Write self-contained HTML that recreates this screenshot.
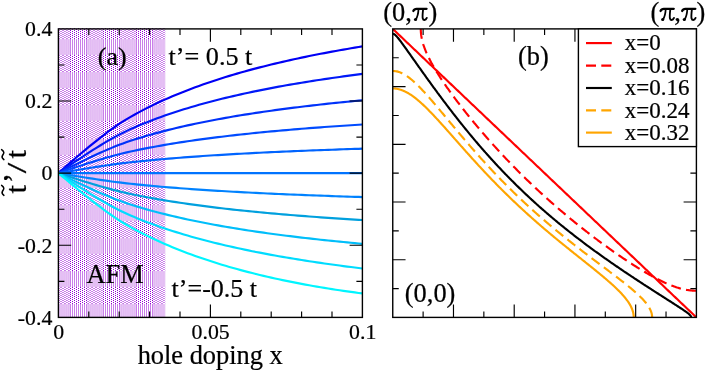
<!DOCTYPE html>
<html><head><meta charset="utf-8"><title>fig</title>
<style>html,body{margin:0;padding:0;background:#fff}body{width:706px;height:371px;overflow:hidden;font-family:"Liberation Serif",serif}</style></head>
<body>
<svg width="706" height="371" viewBox="0 0 706 371" style="display:block;will-change:transform;font-family:'Liberation Serif',serif" stroke-linecap="butt"><style>text{stroke:#000;stroke-width:0.22px}</style>
<rect width="706" height="371" fill="#fff"/>
<defs><clipPath id="ca"><rect x="58.40" y="28.90" width="304.00" height="288.50"/></clipPath>
<clipPath id="cb"><rect x="392.75" y="28.90" width="303.65" height="288.50"/></clipPath></defs>
<!--AFM-->
<mask id="mr0" style="mask-type:alpha" maskUnits="userSpaceOnUse" x="58" y="28" width="108" height="290">
<rect x="58" y="28" width="108" height="1"/><rect x="58" y="30" width="108" height="1"/><rect x="58" y="32" width="108" height="1"/><rect x="58" y="34" width="108" height="1"/><rect x="58" y="36" width="108" height="1"/><rect x="58" y="38" width="108" height="1"/><rect x="58" y="39" width="108" height="1" fill-opacity="0.5"/><rect x="58" y="40" width="108" height="1" fill-opacity="0.5"/><rect x="58" y="41" width="108" height="1" fill-opacity="0.5"/><rect x="58" y="42" width="108" height="1" fill-opacity="0.5"/><rect x="58" y="43" width="108" height="1" fill-opacity="0.5"/><rect x="58" y="44" width="108" height="1" fill-opacity="0.5"/><rect x="58" y="45" width="108" height="1" fill-opacity="0.5"/><rect x="58" y="46" width="108" height="1" fill-opacity="0.5"/><rect x="58" y="47" width="108" height="1" fill-opacity="0.5"/><rect x="58" y="48" width="108" height="1" fill-opacity="0.5"/><rect x="58" y="49" width="108" height="1" fill-opacity="0.5"/><rect x="58" y="50" width="108" height="1" fill-opacity="0.5"/><rect x="58" y="51" width="108" height="1" fill-opacity="0.5"/><rect x="58" y="52" width="108" height="1" fill-opacity="0.5"/><rect x="58" y="53" width="108" height="1" fill-opacity="0.5"/><rect x="58" y="54" width="108" height="1" fill-opacity="0.5"/><rect x="58" y="55" width="108" height="1"/><rect x="58" y="57" width="108" height="1"/><rect x="58" y="59" width="108" height="1"/><rect x="58" y="61" width="108" height="1"/><rect x="58" y="63" width="108" height="1"/><rect x="58" y="65" width="108" height="1"/><rect x="58" y="67" width="108" height="1"/><rect x="58" y="69" width="108" height="1"/><rect x="58" y="71" width="108" height="1"/><rect x="58" y="72" width="108" height="1" fill-opacity="0.5"/><rect x="58" y="73" width="108" height="1" fill-opacity="0.5"/><rect x="58" y="74" width="108" height="1" fill-opacity="0.5"/><rect x="58" y="75" width="108" height="1" fill-opacity="0.5"/><rect x="58" y="76" width="108" height="1" fill-opacity="0.5"/><rect x="58" y="77" width="108" height="1" fill-opacity="0.5"/><rect x="58" y="78" width="108" height="1" fill-opacity="0.5"/><rect x="58" y="79" width="108" height="1" fill-opacity="0.5"/><rect x="58" y="80" width="108" height="1" fill-opacity="0.5"/><rect x="58" y="81" width="108" height="1" fill-opacity="0.5"/><rect x="58" y="82" width="108" height="1" fill-opacity="0.5"/><rect x="58" y="83" width="108" height="1" fill-opacity="0.5"/><rect x="58" y="84" width="108" height="1" fill-opacity="0.5"/><rect x="58" y="85" width="108" height="1" fill-opacity="0.5"/><rect x="58" y="86" width="108" height="1" fill-opacity="0.5"/><rect x="58" y="87" width="108" height="1" fill-opacity="0.5"/><rect x="58" y="88" width="108" height="1"/><rect x="58" y="90" width="108" height="1"/><rect x="58" y="92" width="108" height="1"/><rect x="58" y="94" width="108" height="1"/><rect x="58" y="96" width="108" height="1"/><rect x="58" y="98" width="108" height="1"/><rect x="58" y="100" width="108" height="1"/><rect x="58" y="102" width="108" height="1"/><rect x="58" y="104" width="108" height="1"/><rect x="58" y="105" width="108" height="1" fill-opacity="0.5"/><rect x="58" y="106" width="108" height="1" fill-opacity="0.5"/><rect x="58" y="107" width="108" height="1" fill-opacity="0.5"/><rect x="58" y="108" width="108" height="1" fill-opacity="0.5"/><rect x="58" y="109" width="108" height="1" fill-opacity="0.5"/><rect x="58" y="110" width="108" height="1" fill-opacity="0.5"/><rect x="58" y="111" width="108" height="1" fill-opacity="0.5"/><rect x="58" y="112" width="108" height="1" fill-opacity="0.5"/><rect x="58" y="113" width="108" height="1" fill-opacity="0.5"/><rect x="58" y="114" width="108" height="1" fill-opacity="0.5"/><rect x="58" y="115" width="108" height="1" fill-opacity="0.5"/><rect x="58" y="116" width="108" height="1" fill-opacity="0.5"/><rect x="58" y="117" width="108" height="1" fill-opacity="0.5"/><rect x="58" y="118" width="108" height="1" fill-opacity="0.5"/><rect x="58" y="119" width="108" height="1" fill-opacity="0.5"/><rect x="58" y="120" width="108" height="1" fill-opacity="0.5"/><rect x="58" y="121" width="108" height="1"/><rect x="58" y="123" width="108" height="1"/><rect x="58" y="125" width="108" height="1"/><rect x="58" y="127" width="108" height="1"/><rect x="58" y="129" width="108" height="1"/><rect x="58" y="131" width="108" height="1"/><rect x="58" y="133" width="108" height="1"/><rect x="58" y="135" width="108" height="1"/><rect x="58" y="137" width="108" height="1"/><rect x="58" y="139" width="108" height="1" fill-opacity="0.5"/><rect x="58" y="140" width="108" height="1" fill-opacity="0.5"/><rect x="58" y="141" width="108" height="1" fill-opacity="0.5"/><rect x="58" y="142" width="108" height="1" fill-opacity="0.5"/><rect x="58" y="143" width="108" height="1" fill-opacity="0.5"/><rect x="58" y="144" width="108" height="1" fill-opacity="0.5"/><rect x="58" y="145" width="108" height="1" fill-opacity="0.5"/><rect x="58" y="146" width="108" height="1" fill-opacity="0.5"/><rect x="58" y="147" width="108" height="1" fill-opacity="0.5"/><rect x="58" y="148" width="108" height="1" fill-opacity="0.5"/><rect x="58" y="149" width="108" height="1" fill-opacity="0.5"/><rect x="58" y="150" width="108" height="1" fill-opacity="0.5"/><rect x="58" y="151" width="108" height="1" fill-opacity="0.5"/><rect x="58" y="152" width="108" height="1" fill-opacity="0.5"/><rect x="58" y="153" width="108" height="1" fill-opacity="0.5"/><rect x="58" y="154" width="108" height="1" fill-opacity="0.5"/><rect x="58" y="156" width="108" height="1"/><rect x="58" y="158" width="108" height="1"/><rect x="58" y="160" width="108" height="1"/><rect x="58" y="162" width="108" height="1"/><rect x="58" y="164" width="108" height="1"/><rect x="58" y="166" width="108" height="1"/><rect x="58" y="168" width="108" height="1"/><rect x="58" y="170" width="108" height="1"/><rect x="58" y="172" width="108" height="1" fill-opacity="0.5"/><rect x="58" y="173" width="108" height="1" fill-opacity="0.5"/><rect x="58" y="174" width="108" height="1" fill-opacity="0.5"/><rect x="58" y="175" width="108" height="1" fill-opacity="0.5"/><rect x="58" y="176" width="108" height="1" fill-opacity="0.5"/><rect x="58" y="177" width="108" height="1" fill-opacity="0.5"/><rect x="58" y="178" width="108" height="1" fill-opacity="0.5"/><rect x="58" y="179" width="108" height="1" fill-opacity="0.5"/><rect x="58" y="180" width="108" height="1" fill-opacity="0.5"/><rect x="58" y="181" width="108" height="1" fill-opacity="0.5"/><rect x="58" y="182" width="108" height="1" fill-opacity="0.5"/><rect x="58" y="183" width="108" height="1" fill-opacity="0.5"/><rect x="58" y="184" width="108" height="1" fill-opacity="0.5"/><rect x="58" y="185" width="108" height="1" fill-opacity="0.5"/><rect x="58" y="186" width="108" height="1" fill-opacity="0.5"/><rect x="58" y="187" width="108" height="1" fill-opacity="0.5"/><rect x="58" y="189" width="108" height="1"/><rect x="58" y="191" width="108" height="1"/><rect x="58" y="193" width="108" height="1"/><rect x="58" y="195" width="108" height="1"/><rect x="58" y="197" width="108" height="1"/><rect x="58" y="199" width="108" height="1"/><rect x="58" y="201" width="108" height="1"/><rect x="58" y="203" width="108" height="1"/><rect x="58" y="205" width="108" height="1" fill-opacity="0.5"/><rect x="58" y="206" width="108" height="1" fill-opacity="0.5"/><rect x="58" y="207" width="108" height="1" fill-opacity="0.5"/><rect x="58" y="208" width="108" height="1" fill-opacity="0.5"/><rect x="58" y="209" width="108" height="1" fill-opacity="0.5"/><rect x="58" y="210" width="108" height="1" fill-opacity="0.5"/><rect x="58" y="211" width="108" height="1" fill-opacity="0.5"/><rect x="58" y="212" width="108" height="1" fill-opacity="0.5"/><rect x="58" y="213" width="108" height="1" fill-opacity="0.5"/><rect x="58" y="214" width="108" height="1" fill-opacity="0.5"/><rect x="58" y="215" width="108" height="1" fill-opacity="0.5"/><rect x="58" y="216" width="108" height="1" fill-opacity="0.5"/><rect x="58" y="217" width="108" height="1" fill-opacity="0.5"/><rect x="58" y="218" width="108" height="1" fill-opacity="0.5"/><rect x="58" y="219" width="108" height="1" fill-opacity="0.5"/><rect x="58" y="220" width="108" height="1" fill-opacity="0.5"/><rect x="58" y="222" width="108" height="1"/><rect x="58" y="224" width="108" height="1"/><rect x="58" y="226" width="108" height="1"/><rect x="58" y="228" width="108" height="1"/><rect x="58" y="230" width="108" height="1"/><rect x="58" y="232" width="108" height="1"/><rect x="58" y="234" width="108" height="1"/><rect x="58" y="236" width="108" height="1"/><rect x="58" y="238" width="108" height="1" fill-opacity="0.5"/><rect x="58" y="239" width="108" height="1" fill-opacity="0.5"/><rect x="58" y="240" width="108" height="1" fill-opacity="0.5"/><rect x="58" y="241" width="108" height="1" fill-opacity="0.5"/><rect x="58" y="242" width="108" height="1" fill-opacity="0.5"/><rect x="58" y="243" width="108" height="1" fill-opacity="0.5"/><rect x="58" y="244" width="108" height="1" fill-opacity="0.5"/><rect x="58" y="245" width="108" height="1" fill-opacity="0.5"/><rect x="58" y="246" width="108" height="1" fill-opacity="0.5"/><rect x="58" y="247" width="108" height="1" fill-opacity="0.5"/><rect x="58" y="248" width="108" height="1" fill-opacity="0.5"/><rect x="58" y="249" width="108" height="1" fill-opacity="0.5"/><rect x="58" y="250" width="108" height="1" fill-opacity="0.5"/><rect x="58" y="251" width="108" height="1" fill-opacity="0.5"/><rect x="58" y="252" width="108" height="1" fill-opacity="0.5"/><rect x="58" y="253" width="108" height="1" fill-opacity="0.5"/><rect x="58" y="255" width="108" height="1"/><rect x="58" y="257" width="108" height="1"/><rect x="58" y="259" width="108" height="1"/><rect x="58" y="261" width="108" height="1"/><rect x="58" y="263" width="108" height="1"/><rect x="58" y="265" width="108" height="1"/><rect x="58" y="267" width="108" height="1"/><rect x="58" y="269" width="108" height="1"/><rect x="58" y="271" width="108" height="1" fill-opacity="0.5"/><rect x="58" y="272" width="108" height="1" fill-opacity="0.5"/><rect x="58" y="273" width="108" height="1" fill-opacity="0.5"/><rect x="58" y="274" width="108" height="1" fill-opacity="0.5"/><rect x="58" y="275" width="108" height="1" fill-opacity="0.5"/><rect x="58" y="276" width="108" height="1" fill-opacity="0.5"/><rect x="58" y="277" width="108" height="1" fill-opacity="0.5"/><rect x="58" y="278" width="108" height="1" fill-opacity="0.5"/><rect x="58" y="279" width="108" height="1" fill-opacity="0.5"/><rect x="58" y="280" width="108" height="1" fill-opacity="0.5"/><rect x="58" y="281" width="108" height="1" fill-opacity="0.5"/><rect x="58" y="282" width="108" height="1" fill-opacity="0.5"/><rect x="58" y="283" width="108" height="1" fill-opacity="0.5"/><rect x="58" y="284" width="108" height="1" fill-opacity="0.5"/><rect x="58" y="285" width="108" height="1" fill-opacity="0.5"/><rect x="58" y="286" width="108" height="1" fill-opacity="0.5"/><rect x="58" y="288" width="108" height="1"/><rect x="58" y="290" width="108" height="1"/><rect x="58" y="292" width="108" height="1"/><rect x="58" y="294" width="108" height="1"/><rect x="58" y="296" width="108" height="1"/><rect x="58" y="298" width="108" height="1"/><rect x="58" y="300" width="108" height="1"/><rect x="58" y="302" width="108" height="1"/><rect x="58" y="304" width="108" height="1" fill-opacity="0.5"/><rect x="58" y="305" width="108" height="1" fill-opacity="0.5"/><rect x="58" y="306" width="108" height="1" fill-opacity="0.5"/><rect x="58" y="307" width="108" height="1" fill-opacity="0.5"/><rect x="58" y="308" width="108" height="1" fill-opacity="0.5"/><rect x="58" y="309" width="108" height="1" fill-opacity="0.5"/><rect x="58" y="310" width="108" height="1" fill-opacity="0.5"/><rect x="58" y="311" width="108" height="1" fill-opacity="0.5"/><rect x="58" y="312" width="108" height="1" fill-opacity="0.5"/><rect x="58" y="313" width="108" height="1" fill-opacity="0.5"/><rect x="58" y="314" width="108" height="1" fill-opacity="0.5"/><rect x="58" y="315" width="108" height="1" fill-opacity="0.5"/><rect x="58" y="316" width="108" height="1" fill-opacity="0.5"/><rect x="58" y="317" width="108" height="1" fill-opacity="0.5"/>
</mask>
<g mask="url(#mr0)" fill="#9400d3" shape-rendering="crispEdges"><rect x="58" y="28" width="1" height="290" fill-opacity="0.467"/><rect x="59" y="28" width="1" height="290" fill-opacity="0.524"/><rect x="62" y="28" width="1" height="290" fill-opacity="0.502"/><rect x="63" y="28" width="1" height="290" fill-opacity="0.489"/><rect x="66" y="28" width="1" height="290" fill-opacity="0.537"/><rect x="67" y="28" width="1" height="290" fill-opacity="0.454"/><rect x="70" y="28" width="1" height="290"/><rect x="74" y="28" width="1" height="290"/><rect x="78" y="28" width="1" height="290"/><rect x="82" y="28" width="1" height="290"/><rect x="86" y="28" width="1" height="290"/><rect x="89" y="28" width="1" height="290" fill-opacity="0.449"/><rect x="90" y="28" width="1" height="290" fill-opacity="0.542"/><rect x="93" y="28" width="1" height="290" fill-opacity="0.484"/><rect x="94" y="28" width="1" height="290" fill-opacity="0.507"/><rect x="97" y="28" width="1" height="290" fill-opacity="0.519"/><rect x="98" y="28" width="1" height="290" fill-opacity="0.472"/><rect x="101" y="28" width="1" height="290" fill-opacity="0.554"/><rect x="102" y="28" width="1" height="290" fill-opacity="0.437"/><rect x="105" y="28" width="1" height="290"/><rect x="109" y="28" width="1" height="290"/><rect x="113" y="28" width="1" height="290"/><rect x="117" y="28" width="1" height="290"/><rect x="120" y="28" width="1" height="290" fill-opacity="0.431"/><rect x="121" y="28" width="1" height="290" fill-opacity="0.56"/><rect x="124" y="28" width="1" height="290" fill-opacity="0.466"/><rect x="125" y="28" width="1" height="290" fill-opacity="0.525"/><rect x="128" y="28" width="1" height="290" fill-opacity="0.501"/><rect x="129" y="28" width="1" height="290" fill-opacity="0.49"/><rect x="132" y="28" width="1" height="290" fill-opacity="0.536"/><rect x="133" y="28" width="1" height="290" fill-opacity="0.455"/><rect x="136" y="28" width="1" height="290"/><rect x="140" y="28" width="1" height="290"/><rect x="144" y="28" width="1" height="290"/><rect x="148" y="28" width="1" height="290"/><rect x="152" y="28" width="1" height="290"/><rect x="155" y="28" width="1" height="290" fill-opacity="0.448"/><rect x="156" y="28" width="1" height="290" fill-opacity="0.543"/><rect x="159" y="28" width="1" height="290" fill-opacity="0.483"/><rect x="160" y="28" width="1" height="290" fill-opacity="0.508"/><rect x="163" y="28" width="1" height="290" fill-opacity="0.518"/><rect x="164" y="28" width="1" height="290" fill-opacity="0.473"/></g>
<mask id="mr1" style="mask-type:alpha" maskUnits="userSpaceOnUse" x="58" y="28" width="108" height="290">
<rect x="58" y="29" width="108" height="1"/><rect x="58" y="31" width="108" height="1"/><rect x="58" y="33" width="108" height="1"/><rect x="58" y="35" width="108" height="1"/><rect x="58" y="37" width="108" height="1"/><rect x="58" y="39" width="108" height="1" fill-opacity="0.5"/><rect x="58" y="40" width="108" height="1" fill-opacity="0.5"/><rect x="58" y="41" width="108" height="1" fill-opacity="0.5"/><rect x="58" y="42" width="108" height="1" fill-opacity="0.5"/><rect x="58" y="43" width="108" height="1" fill-opacity="0.5"/><rect x="58" y="44" width="108" height="1" fill-opacity="0.5"/><rect x="58" y="45" width="108" height="1" fill-opacity="0.5"/><rect x="58" y="46" width="108" height="1" fill-opacity="0.5"/><rect x="58" y="47" width="108" height="1" fill-opacity="0.5"/><rect x="58" y="48" width="108" height="1" fill-opacity="0.5"/><rect x="58" y="49" width="108" height="1" fill-opacity="0.5"/><rect x="58" y="50" width="108" height="1" fill-opacity="0.5"/><rect x="58" y="51" width="108" height="1" fill-opacity="0.5"/><rect x="58" y="52" width="108" height="1" fill-opacity="0.5"/><rect x="58" y="53" width="108" height="1" fill-opacity="0.5"/><rect x="58" y="54" width="108" height="1" fill-opacity="0.5"/><rect x="58" y="56" width="108" height="1"/><rect x="58" y="58" width="108" height="1"/><rect x="58" y="60" width="108" height="1"/><rect x="58" y="62" width="108" height="1"/><rect x="58" y="64" width="108" height="1"/><rect x="58" y="66" width="108" height="1"/><rect x="58" y="68" width="108" height="1"/><rect x="58" y="70" width="108" height="1"/><rect x="58" y="72" width="108" height="1" fill-opacity="0.5"/><rect x="58" y="73" width="108" height="1" fill-opacity="0.5"/><rect x="58" y="74" width="108" height="1" fill-opacity="0.5"/><rect x="58" y="75" width="108" height="1" fill-opacity="0.5"/><rect x="58" y="76" width="108" height="1" fill-opacity="0.5"/><rect x="58" y="77" width="108" height="1" fill-opacity="0.5"/><rect x="58" y="78" width="108" height="1" fill-opacity="0.5"/><rect x="58" y="79" width="108" height="1" fill-opacity="0.5"/><rect x="58" y="80" width="108" height="1" fill-opacity="0.5"/><rect x="58" y="81" width="108" height="1" fill-opacity="0.5"/><rect x="58" y="82" width="108" height="1" fill-opacity="0.5"/><rect x="58" y="83" width="108" height="1" fill-opacity="0.5"/><rect x="58" y="84" width="108" height="1" fill-opacity="0.5"/><rect x="58" y="85" width="108" height="1" fill-opacity="0.5"/><rect x="58" y="86" width="108" height="1" fill-opacity="0.5"/><rect x="58" y="87" width="108" height="1" fill-opacity="0.5"/><rect x="58" y="89" width="108" height="1"/><rect x="58" y="91" width="108" height="1"/><rect x="58" y="93" width="108" height="1"/><rect x="58" y="95" width="108" height="1"/><rect x="58" y="97" width="108" height="1"/><rect x="58" y="99" width="108" height="1"/><rect x="58" y="101" width="108" height="1"/><rect x="58" y="103" width="108" height="1"/><rect x="58" y="105" width="108" height="1" fill-opacity="0.5"/><rect x="58" y="106" width="108" height="1" fill-opacity="0.5"/><rect x="58" y="107" width="108" height="1" fill-opacity="0.5"/><rect x="58" y="108" width="108" height="1" fill-opacity="0.5"/><rect x="58" y="109" width="108" height="1" fill-opacity="0.5"/><rect x="58" y="110" width="108" height="1" fill-opacity="0.5"/><rect x="58" y="111" width="108" height="1" fill-opacity="0.5"/><rect x="58" y="112" width="108" height="1" fill-opacity="0.5"/><rect x="58" y="113" width="108" height="1" fill-opacity="0.5"/><rect x="58" y="114" width="108" height="1" fill-opacity="0.5"/><rect x="58" y="115" width="108" height="1" fill-opacity="0.5"/><rect x="58" y="116" width="108" height="1" fill-opacity="0.5"/><rect x="58" y="117" width="108" height="1" fill-opacity="0.5"/><rect x="58" y="118" width="108" height="1" fill-opacity="0.5"/><rect x="58" y="119" width="108" height="1" fill-opacity="0.5"/><rect x="58" y="120" width="108" height="1" fill-opacity="0.5"/><rect x="58" y="122" width="108" height="1"/><rect x="58" y="124" width="108" height="1"/><rect x="58" y="126" width="108" height="1"/><rect x="58" y="128" width="108" height="1"/><rect x="58" y="130" width="108" height="1"/><rect x="58" y="132" width="108" height="1"/><rect x="58" y="134" width="108" height="1"/><rect x="58" y="136" width="108" height="1"/><rect x="58" y="138" width="108" height="1"/><rect x="58" y="139" width="108" height="1" fill-opacity="0.5"/><rect x="58" y="140" width="108" height="1" fill-opacity="0.5"/><rect x="58" y="141" width="108" height="1" fill-opacity="0.5"/><rect x="58" y="142" width="108" height="1" fill-opacity="0.5"/><rect x="58" y="143" width="108" height="1" fill-opacity="0.5"/><rect x="58" y="144" width="108" height="1" fill-opacity="0.5"/><rect x="58" y="145" width="108" height="1" fill-opacity="0.5"/><rect x="58" y="146" width="108" height="1" fill-opacity="0.5"/><rect x="58" y="147" width="108" height="1" fill-opacity="0.5"/><rect x="58" y="148" width="108" height="1" fill-opacity="0.5"/><rect x="58" y="149" width="108" height="1" fill-opacity="0.5"/><rect x="58" y="150" width="108" height="1" fill-opacity="0.5"/><rect x="58" y="151" width="108" height="1" fill-opacity="0.5"/><rect x="58" y="152" width="108" height="1" fill-opacity="0.5"/><rect x="58" y="153" width="108" height="1" fill-opacity="0.5"/><rect x="58" y="154" width="108" height="1" fill-opacity="0.5"/><rect x="58" y="155" width="108" height="1"/><rect x="58" y="157" width="108" height="1"/><rect x="58" y="159" width="108" height="1"/><rect x="58" y="161" width="108" height="1"/><rect x="58" y="163" width="108" height="1"/><rect x="58" y="165" width="108" height="1"/><rect x="58" y="167" width="108" height="1"/><rect x="58" y="169" width="108" height="1"/><rect x="58" y="171" width="108" height="1"/><rect x="58" y="172" width="108" height="1" fill-opacity="0.5"/><rect x="58" y="173" width="108" height="1" fill-opacity="0.5"/><rect x="58" y="174" width="108" height="1" fill-opacity="0.5"/><rect x="58" y="175" width="108" height="1" fill-opacity="0.5"/><rect x="58" y="176" width="108" height="1" fill-opacity="0.5"/><rect x="58" y="177" width="108" height="1" fill-opacity="0.5"/><rect x="58" y="178" width="108" height="1" fill-opacity="0.5"/><rect x="58" y="179" width="108" height="1" fill-opacity="0.5"/><rect x="58" y="180" width="108" height="1" fill-opacity="0.5"/><rect x="58" y="181" width="108" height="1" fill-opacity="0.5"/><rect x="58" y="182" width="108" height="1" fill-opacity="0.5"/><rect x="58" y="183" width="108" height="1" fill-opacity="0.5"/><rect x="58" y="184" width="108" height="1" fill-opacity="0.5"/><rect x="58" y="185" width="108" height="1" fill-opacity="0.5"/><rect x="58" y="186" width="108" height="1" fill-opacity="0.5"/><rect x="58" y="187" width="108" height="1" fill-opacity="0.5"/><rect x="58" y="188" width="108" height="1"/><rect x="58" y="190" width="108" height="1"/><rect x="58" y="192" width="108" height="1"/><rect x="58" y="194" width="108" height="1"/><rect x="58" y="196" width="108" height="1"/><rect x="58" y="198" width="108" height="1"/><rect x="58" y="200" width="108" height="1"/><rect x="58" y="202" width="108" height="1"/><rect x="58" y="204" width="108" height="1"/><rect x="58" y="205" width="108" height="1" fill-opacity="0.5"/><rect x="58" y="206" width="108" height="1" fill-opacity="0.5"/><rect x="58" y="207" width="108" height="1" fill-opacity="0.5"/><rect x="58" y="208" width="108" height="1" fill-opacity="0.5"/><rect x="58" y="209" width="108" height="1" fill-opacity="0.5"/><rect x="58" y="210" width="108" height="1" fill-opacity="0.5"/><rect x="58" y="211" width="108" height="1" fill-opacity="0.5"/><rect x="58" y="212" width="108" height="1" fill-opacity="0.5"/><rect x="58" y="213" width="108" height="1" fill-opacity="0.5"/><rect x="58" y="214" width="108" height="1" fill-opacity="0.5"/><rect x="58" y="215" width="108" height="1" fill-opacity="0.5"/><rect x="58" y="216" width="108" height="1" fill-opacity="0.5"/><rect x="58" y="217" width="108" height="1" fill-opacity="0.5"/><rect x="58" y="218" width="108" height="1" fill-opacity="0.5"/><rect x="58" y="219" width="108" height="1" fill-opacity="0.5"/><rect x="58" y="220" width="108" height="1" fill-opacity="0.5"/><rect x="58" y="221" width="108" height="1"/><rect x="58" y="223" width="108" height="1"/><rect x="58" y="225" width="108" height="1"/><rect x="58" y="227" width="108" height="1"/><rect x="58" y="229" width="108" height="1"/><rect x="58" y="231" width="108" height="1"/><rect x="58" y="233" width="108" height="1"/><rect x="58" y="235" width="108" height="1"/><rect x="58" y="237" width="108" height="1"/><rect x="58" y="238" width="108" height="1" fill-opacity="0.5"/><rect x="58" y="239" width="108" height="1" fill-opacity="0.5"/><rect x="58" y="240" width="108" height="1" fill-opacity="0.5"/><rect x="58" y="241" width="108" height="1" fill-opacity="0.5"/><rect x="58" y="242" width="108" height="1" fill-opacity="0.5"/><rect x="58" y="243" width="108" height="1" fill-opacity="0.5"/><rect x="58" y="244" width="108" height="1" fill-opacity="0.5"/><rect x="58" y="245" width="108" height="1" fill-opacity="0.5"/><rect x="58" y="246" width="108" height="1" fill-opacity="0.5"/><rect x="58" y="247" width="108" height="1" fill-opacity="0.5"/><rect x="58" y="248" width="108" height="1" fill-opacity="0.5"/><rect x="58" y="249" width="108" height="1" fill-opacity="0.5"/><rect x="58" y="250" width="108" height="1" fill-opacity="0.5"/><rect x="58" y="251" width="108" height="1" fill-opacity="0.5"/><rect x="58" y="252" width="108" height="1" fill-opacity="0.5"/><rect x="58" y="253" width="108" height="1" fill-opacity="0.5"/><rect x="58" y="254" width="108" height="1"/><rect x="58" y="256" width="108" height="1"/><rect x="58" y="258" width="108" height="1"/><rect x="58" y="260" width="108" height="1"/><rect x="58" y="262" width="108" height="1"/><rect x="58" y="264" width="108" height="1"/><rect x="58" y="266" width="108" height="1"/><rect x="58" y="268" width="108" height="1"/><rect x="58" y="270" width="108" height="1"/><rect x="58" y="271" width="108" height="1" fill-opacity="0.5"/><rect x="58" y="272" width="108" height="1" fill-opacity="0.5"/><rect x="58" y="273" width="108" height="1" fill-opacity="0.5"/><rect x="58" y="274" width="108" height="1" fill-opacity="0.5"/><rect x="58" y="275" width="108" height="1" fill-opacity="0.5"/><rect x="58" y="276" width="108" height="1" fill-opacity="0.5"/><rect x="58" y="277" width="108" height="1" fill-opacity="0.5"/><rect x="58" y="278" width="108" height="1" fill-opacity="0.5"/><rect x="58" y="279" width="108" height="1" fill-opacity="0.5"/><rect x="58" y="280" width="108" height="1" fill-opacity="0.5"/><rect x="58" y="281" width="108" height="1" fill-opacity="0.5"/><rect x="58" y="282" width="108" height="1" fill-opacity="0.5"/><rect x="58" y="283" width="108" height="1" fill-opacity="0.5"/><rect x="58" y="284" width="108" height="1" fill-opacity="0.5"/><rect x="58" y="285" width="108" height="1" fill-opacity="0.5"/><rect x="58" y="286" width="108" height="1" fill-opacity="0.5"/><rect x="58" y="287" width="108" height="1"/><rect x="58" y="289" width="108" height="1"/><rect x="58" y="291" width="108" height="1"/><rect x="58" y="293" width="108" height="1"/><rect x="58" y="295" width="108" height="1"/><rect x="58" y="297" width="108" height="1"/><rect x="58" y="299" width="108" height="1"/><rect x="58" y="301" width="108" height="1"/><rect x="58" y="303" width="108" height="1"/><rect x="58" y="304" width="108" height="1" fill-opacity="0.5"/><rect x="58" y="305" width="108" height="1" fill-opacity="0.5"/><rect x="58" y="306" width="108" height="1" fill-opacity="0.5"/><rect x="58" y="307" width="108" height="1" fill-opacity="0.5"/><rect x="58" y="308" width="108" height="1" fill-opacity="0.5"/><rect x="58" y="309" width="108" height="1" fill-opacity="0.5"/><rect x="58" y="310" width="108" height="1" fill-opacity="0.5"/><rect x="58" y="311" width="108" height="1" fill-opacity="0.5"/><rect x="58" y="312" width="108" height="1" fill-opacity="0.5"/><rect x="58" y="313" width="108" height="1" fill-opacity="0.5"/><rect x="58" y="314" width="108" height="1" fill-opacity="0.5"/><rect x="58" y="315" width="108" height="1" fill-opacity="0.5"/><rect x="58" y="316" width="108" height="1" fill-opacity="0.5"/><rect x="58" y="317" width="108" height="1" fill-opacity="0.5"/>
</mask>
<g mask="url(#mr1)" fill="#9400d3" shape-rendering="crispEdges"><rect x="60" y="28" width="1" height="290" fill-opacity="0.484"/><rect x="61" y="28" width="1" height="290" fill-opacity="0.507"/><rect x="64" y="28" width="1" height="290" fill-opacity="0.519"/><rect x="65" y="28" width="1" height="290" fill-opacity="0.472"/><rect x="68" y="28" width="1" height="290" fill-opacity="0.554"/><rect x="69" y="28" width="1" height="290" fill-opacity="0.437"/><rect x="72" y="28" width="1" height="290"/><rect x="76" y="28" width="1" height="290"/><rect x="80" y="28" width="1" height="290"/><rect x="84" y="28" width="1" height="290"/><rect x="87" y="28" width="1" height="290" fill-opacity="0.432"/><rect x="88" y="28" width="1" height="290" fill-opacity="0.56"/><rect x="91" y="28" width="1" height="290" fill-opacity="0.467"/><rect x="92" y="28" width="1" height="290" fill-opacity="0.525"/><rect x="95" y="28" width="1" height="290" fill-opacity="0.501"/><rect x="96" y="28" width="1" height="290" fill-opacity="0.49"/><rect x="99" y="28" width="1" height="290" fill-opacity="0.536"/><rect x="100" y="28" width="1" height="290" fill-opacity="0.455"/><rect x="103" y="28" width="1" height="290"/><rect x="107" y="28" width="1" height="290"/><rect x="111" y="28" width="1" height="290"/><rect x="115" y="28" width="1" height="290"/><rect x="119" y="28" width="1" height="290"/><rect x="122" y="28" width="1" height="290" fill-opacity="0.449"/><rect x="123" y="28" width="1" height="290" fill-opacity="0.543"/><rect x="126" y="28" width="1" height="290" fill-opacity="0.484"/><rect x="127" y="28" width="1" height="290" fill-opacity="0.508"/><rect x="130" y="28" width="1" height="290" fill-opacity="0.518"/><rect x="131" y="28" width="1" height="290" fill-opacity="0.473"/><rect x="134" y="28" width="1" height="290" fill-opacity="0.553"/><rect x="135" y="28" width="1" height="290" fill-opacity="0.438"/><rect x="138" y="28" width="1" height="290"/><rect x="142" y="28" width="1" height="290"/><rect x="146" y="28" width="1" height="290"/><rect x="150" y="28" width="1" height="290"/><rect x="153" y="28" width="1" height="290" fill-opacity="0.431"/><rect x="154" y="28" width="1" height="290" fill-opacity="0.561"/><rect x="157" y="28" width="1" height="290" fill-opacity="0.466"/><rect x="158" y="28" width="1" height="290" fill-opacity="0.526"/><rect x="161" y="28" width="1" height="290" fill-opacity="0.501"/><rect x="162" y="28" width="1" height="290" fill-opacity="0.491"/><rect x="165" y="28" width="1" height="290" fill-opacity="0.161"/></g>
<!--/AFM-->
<g clip-path="url(#ca)" fill="none" stroke-width="2.15" stroke-linejoin="round">
<path d="M58.40 173.15 L62.20 169.77 L66.00 166.42 L69.80 163.09 L73.60 159.79 L77.40 156.52 L81.20 153.29 L85.00 150.10 L88.80 146.95 L92.60 143.85 L96.40 140.80 L100.20 137.80 L104.00 134.86 L107.80 131.98 L111.60 129.19 L115.40 126.50 L119.20 123.92 L123.00 121.47 L126.80 119.12 L130.60 116.88 L134.40 114.72 L138.20 112.64 L142.00 110.62 L145.80 108.66 L149.60 106.76 L153.40 104.90 L157.20 103.09 L161.00 101.33 L164.80 99.61 L168.60 97.93 L172.40 96.30 L176.20 94.71 L180.00 93.15 L183.80 91.63 L187.60 90.15 L191.40 88.70 L195.20 87.29 L199.00 85.90 L202.80 84.55 L206.60 83.23 L210.40 81.93 L214.20 80.67 L218.00 79.43 L221.80 78.22 L225.60 77.03 L229.40 75.87 L233.20 74.74 L237.00 73.62 L240.80 72.53 L244.60 71.46 L248.40 70.41 L252.20 69.38 L256.00 68.37 L259.80 67.39 L263.60 66.42 L267.40 65.46 L271.20 64.53 L275.00 63.61 L278.80 62.71 L282.60 61.83 L286.40 60.96 L290.20 60.11 L294.00 59.27 L297.80 58.45 L301.60 57.64 L305.40 56.85 L309.20 56.07 L313.00 55.30 L316.80 54.55 L320.60 53.80 L324.40 53.07 L328.20 52.36 L332.00 51.65 L335.80 50.96 L339.60 50.27 L343.40 49.60 L347.20 48.94 L351.00 48.29 L354.80 47.64 L358.60 47.01 L362.40 46.39" stroke="rgb(0,0,245)"/>
<path d="M58.40 173.15 L62.20 170.50 L66.00 167.88 L69.80 165.27 L73.60 162.69 L77.40 160.13 L81.20 157.60 L85.00 155.10 L88.80 152.64 L92.60 150.21 L96.40 147.82 L100.20 145.47 L104.00 143.17 L107.80 140.92 L111.60 138.73 L115.40 136.63 L119.20 134.61 L123.00 132.68 L126.80 130.85 L130.60 129.09 L134.40 127.40 L138.20 125.77 L142.00 124.19 L145.80 122.66 L149.60 121.16 L153.40 119.71 L157.20 118.29 L161.00 116.91 L164.80 115.57 L168.60 114.26 L172.40 112.98 L176.20 111.73 L180.00 110.51 L183.80 109.32 L187.60 108.16 L191.40 107.03 L195.20 105.92 L199.00 104.83 L202.80 103.78 L206.60 102.74 L210.40 101.73 L214.20 100.74 L218.00 99.77 L221.80 98.82 L225.60 97.89 L229.40 96.98 L233.20 96.09 L237.00 95.22 L240.80 94.36 L244.60 93.53 L248.40 92.71 L252.20 91.90 L256.00 91.11 L259.80 90.34 L263.60 89.58 L267.40 88.83 L271.20 88.10 L275.00 87.38 L278.80 86.68 L282.60 85.99 L286.40 85.31 L290.20 84.64 L294.00 83.98 L297.80 83.34 L301.60 82.71 L305.40 82.09 L309.20 81.47 L313.00 80.87 L316.80 80.28 L320.60 79.70 L324.40 79.13 L328.20 78.57 L332.00 78.02 L335.80 77.47 L339.60 76.94 L343.40 76.41 L347.20 75.89 L351.00 75.38 L354.80 74.88 L358.60 74.38 L362.40 73.90" stroke="rgb(0,25,248)"/>
<path d="M58.40 173.15 L62.20 171.21 L66.00 169.28 L69.80 167.36 L73.60 165.47 L77.40 163.59 L81.20 161.73 L85.00 159.90 L88.80 158.09 L92.60 156.30 L96.40 154.55 L100.20 152.82 L104.00 151.13 L107.80 149.48 L111.60 147.88 L115.40 146.33 L119.20 144.85 L123.00 143.43 L126.80 142.08 L130.60 140.79 L134.40 139.55 L138.20 138.36 L142.00 137.20 L145.80 136.07 L149.60 134.97 L153.40 133.91 L157.20 132.87 L161.00 131.85 L164.80 130.86 L168.60 129.90 L172.40 128.96 L176.20 128.05 L180.00 127.15 L183.80 126.28 L187.60 125.42 L191.40 124.59 L195.20 123.78 L199.00 122.98 L202.80 122.21 L206.60 121.44 L210.40 120.70 L214.20 119.97 L218.00 119.26 L221.80 118.57 L225.60 117.88 L229.40 117.22 L233.20 116.56 L237.00 115.92 L240.80 115.29 L244.60 114.68 L248.40 114.08 L252.20 113.48 L256.00 112.90 L259.80 112.34 L263.60 111.78 L267.40 111.23 L271.20 110.69 L275.00 110.17 L278.80 109.65 L282.60 109.14 L286.40 108.64 L290.20 108.15 L294.00 107.67 L297.80 107.20 L301.60 106.73 L305.40 106.28 L309.20 105.83 L313.00 105.39 L316.80 104.95 L320.60 104.53 L324.40 104.11 L328.20 103.69 L332.00 103.29 L335.80 102.89 L339.60 102.50 L343.40 102.11 L347.20 101.73 L351.00 101.35 L354.80 100.98 L358.60 100.62 L362.40 100.26" stroke="rgb(0,50,250)"/>
<path d="M58.40 173.15 L62.20 171.85 L66.00 170.56 L69.80 169.29 L73.60 168.02 L77.40 166.76 L81.20 165.52 L85.00 164.30 L88.80 163.09 L92.60 161.90 L96.40 160.73 L100.20 159.57 L104.00 158.44 L107.80 157.34 L111.60 156.27 L115.40 155.24 L119.20 154.25 L123.00 153.30 L126.80 152.40 L130.60 151.54 L134.40 150.71 L138.20 149.91 L142.00 149.14 L145.80 148.39 L149.60 147.66 L153.40 146.94 L157.20 146.25 L161.00 145.57 L164.80 144.91 L168.60 144.27 L172.40 143.64 L176.20 143.03 L180.00 142.43 L183.80 141.85 L187.60 141.28 L191.40 140.72 L195.20 140.18 L199.00 139.65 L202.80 139.13 L206.60 138.62 L210.40 138.12 L214.20 137.64 L218.00 137.16 L221.80 136.70 L225.60 136.24 L229.40 135.80 L233.20 135.36 L237.00 134.93 L240.80 134.51 L244.60 134.10 L248.40 133.70 L252.20 133.30 L256.00 132.92 L259.80 132.54 L263.60 132.16 L267.40 131.80 L271.20 131.44 L275.00 131.09 L278.80 130.74 L282.60 130.40 L286.40 130.07 L290.20 129.74 L294.00 129.42 L297.80 129.11 L301.60 128.80 L305.40 128.49 L309.20 128.19 L313.00 127.90 L316.80 127.61 L320.60 127.32 L324.40 127.04 L328.20 126.77 L332.00 126.49 L335.80 126.23 L339.60 125.97 L343.40 125.71 L347.20 125.45 L351.00 125.20 L354.80 124.96 L358.60 124.71 L362.40 124.47" stroke="rgb(0,75,255)"/>
<path d="M58.40 173.15 L62.20 172.50 L66.00 171.85 L69.80 171.21 L73.60 170.57 L77.40 169.94 L81.20 169.32 L85.00 168.70 L88.80 168.09 L92.60 167.50 L96.40 166.91 L100.20 166.33 L104.00 165.76 L107.80 165.20 L111.60 164.67 L115.40 164.15 L119.20 163.65 L123.00 163.18 L126.80 162.72 L130.60 162.29 L134.40 161.87 L138.20 161.47 L142.00 161.08 L145.80 160.70 L149.60 160.34 L153.40 159.98 L157.20 159.63 L161.00 159.29 L164.80 158.96 L168.60 158.63 L172.40 158.32 L176.20 158.01 L180.00 157.71 L183.80 157.42 L187.60 157.13 L191.40 156.85 L195.20 156.58 L199.00 156.31 L202.80 156.05 L206.60 155.80 L210.40 155.55 L214.20 155.30 L218.00 155.06 L221.80 154.83 L225.60 154.60 L229.40 154.38 L233.20 154.16 L237.00 153.94 L240.80 153.73 L244.60 153.52 L248.40 153.32 L252.20 153.12 L256.00 152.93 L259.80 152.74 L263.60 152.55 L267.40 152.37 L271.20 152.19 L275.00 152.01 L278.80 151.84 L282.60 151.67 L286.40 151.50 L290.20 151.33 L294.00 151.17 L297.80 151.01 L301.60 150.86 L305.40 150.70 L309.20 150.55 L313.00 150.41 L316.80 150.26 L320.60 150.12 L324.40 149.98 L328.20 149.84 L332.00 149.70 L335.80 149.57 L339.60 149.43 L343.40 149.30 L347.20 149.18 L351.00 149.05 L354.80 148.93 L358.60 148.81 L362.40 148.69" stroke="rgb(0,100,255)"/>
<path d="M58.40 173.15 L62.20 173.15 L66.00 173.15 L69.80 173.15 L73.60 173.15 L77.40 173.15 L81.20 173.15 L85.00 173.15 L88.80 173.15 L92.60 173.15 L96.40 173.15 L100.20 173.15 L104.00 173.15 L107.80 173.15 L111.60 173.15 L115.40 173.15 L119.20 173.15 L123.00 173.15 L126.80 173.15 L130.60 173.15 L134.40 173.15 L138.20 173.15 L142.00 173.15 L145.80 173.15 L149.60 173.15 L153.40 173.15 L157.20 173.15 L161.00 173.15 L164.80 173.15 L168.60 173.15 L172.40 173.15 L176.20 173.15 L180.00 173.15 L183.80 173.15 L187.60 173.15 L191.40 173.15 L195.20 173.15 L199.00 173.15 L202.80 173.15 L206.60 173.15 L210.40 173.15 L214.20 173.15 L218.00 173.15 L221.80 173.15 L225.60 173.15 L229.40 173.15 L233.20 173.15 L237.00 173.15 L240.80 173.15 L244.60 173.15 L248.40 173.15 L252.20 173.15 L256.00 173.15 L259.80 173.15 L263.60 173.15 L267.40 173.15 L271.20 173.15 L275.00 173.15 L278.80 173.15 L282.60 173.15 L286.40 173.15 L290.20 173.15 L294.00 173.15 L297.80 173.15 L301.60 173.15 L305.40 173.15 L309.20 173.15 L313.00 173.15 L316.80 173.15 L320.60 173.15 L324.40 173.15 L328.20 173.15 L332.00 173.15 L335.80 173.15 L339.60 173.15 L343.40 173.15 L347.20 173.15 L351.00 173.15 L354.80 173.15 L358.60 173.15 L362.40 173.15" stroke="rgb(0,115,255)"/>
<path d="M58.40 173.15 L62.20 173.79 L66.00 174.42 L69.80 175.05 L73.60 175.67 L77.40 176.29 L81.20 176.90 L85.00 177.50 L88.80 178.09 L92.60 178.68 L96.40 179.25 L100.20 179.82 L104.00 180.37 L107.80 180.91 L111.60 181.44 L115.40 181.95 L119.20 182.43 L123.00 182.90 L126.80 183.34 L130.60 183.76 L134.40 184.17 L138.20 184.56 L142.00 184.94 L145.80 185.31 L149.60 185.67 L153.40 186.02 L157.20 186.36 L161.00 186.70 L164.80 187.02 L168.60 187.34 L172.40 187.64 L176.20 187.94 L180.00 188.24 L183.80 188.52 L187.60 188.80 L191.40 189.08 L195.20 189.34 L199.00 189.60 L202.80 189.86 L206.60 190.11 L210.40 190.35 L214.20 190.59 L218.00 190.83 L221.80 191.05 L225.60 191.28 L229.40 191.50 L233.20 191.71 L237.00 191.92 L240.80 192.13 L244.60 192.33 L248.40 192.53 L252.20 192.72 L256.00 192.91 L259.80 193.10 L263.60 193.28 L267.40 193.46 L271.20 193.64 L275.00 193.81 L278.80 193.98 L282.60 194.14 L286.40 194.31 L290.20 194.47 L294.00 194.63 L297.80 194.78 L301.60 194.93 L305.40 195.08 L309.20 195.23 L313.00 195.38 L316.80 195.52 L320.60 195.66 L324.40 195.80 L328.20 195.93 L332.00 196.06 L335.80 196.20 L339.60 196.32 L343.40 196.45 L347.20 196.58 L351.00 196.70 L354.80 196.82 L358.60 196.94 L362.40 197.06" stroke="rgb(0,130,255)"/>
<path d="M58.40 173.15 L62.20 174.40 L66.00 175.64 L69.80 176.87 L73.60 178.09 L77.40 179.30 L81.20 180.50 L85.00 181.68 L88.80 182.84 L92.60 183.99 L96.40 185.12 L100.20 186.23 L104.00 187.32 L107.80 188.38 L111.60 189.41 L115.40 190.41 L119.20 191.36 L123.00 192.27 L126.80 193.14 L130.60 193.97 L134.40 194.77 L138.20 195.54 L142.00 196.28 L145.80 197.01 L149.60 197.72 L153.40 198.40 L157.20 199.07 L161.00 199.72 L164.80 200.36 L168.60 200.98 L172.40 201.58 L176.20 202.17 L180.00 202.75 L183.80 203.31 L187.60 203.86 L191.40 204.40 L195.20 204.92 L199.00 205.43 L202.80 205.93 L206.60 206.42 L210.40 206.90 L214.20 207.37 L218.00 207.83 L221.80 208.27 L225.60 208.71 L229.40 209.14 L233.20 209.56 L237.00 209.98 L240.80 210.38 L244.60 210.78 L248.40 211.16 L252.20 211.54 L256.00 211.92 L259.80 212.28 L263.60 212.64 L267.40 212.99 L271.20 213.34 L275.00 213.68 L278.80 214.01 L282.60 214.34 L286.40 214.66 L290.20 214.97 L294.00 215.28 L297.80 215.59 L301.60 215.89 L305.40 216.18 L309.20 216.47 L313.00 216.75 L316.80 217.03 L320.60 217.31 L324.40 217.58 L328.20 217.84 L332.00 218.10 L335.80 218.36 L339.60 218.61 L343.40 218.86 L347.20 219.11 L351.00 219.35 L354.80 219.59 L358.60 219.82 L362.40 220.05" stroke="rgb(0,160,222)"/>
<path d="M58.40 173.15 L62.20 175.03 L66.00 176.91 L69.80 178.76 L73.60 180.60 L77.40 182.42 L81.20 184.22 L85.00 186.00 L88.80 187.76 L92.60 189.49 L96.40 191.19 L100.20 192.86 L104.00 194.50 L107.80 196.10 L111.60 197.66 L115.40 199.16 L119.20 200.60 L123.00 201.97 L126.80 203.28 L130.60 204.53 L134.40 205.73 L138.20 206.89 L142.00 208.01 L145.80 209.11 L149.60 210.17 L153.40 211.21 L157.20 212.21 L161.00 213.20 L164.80 214.16 L168.60 215.09 L172.40 216.00 L176.20 216.89 L180.00 217.76 L183.80 218.60 L187.60 219.43 L191.40 220.24 L195.20 221.03 L199.00 221.80 L202.80 222.55 L206.60 223.29 L210.40 224.01 L214.20 224.72 L218.00 225.41 L221.80 226.08 L225.60 226.74 L229.40 227.39 L233.20 228.03 L237.00 228.65 L240.80 229.26 L244.60 229.85 L248.40 230.44 L252.20 231.01 L256.00 231.57 L259.80 232.12 L263.60 232.66 L267.40 233.20 L271.20 233.72 L275.00 234.23 L278.80 234.73 L282.60 235.22 L286.40 235.71 L290.20 236.18 L294.00 236.65 L297.80 237.11 L301.60 237.56 L305.40 238.00 L309.20 238.43 L313.00 238.86 L316.80 239.28 L320.60 239.70 L324.40 240.10 L328.20 240.50 L332.00 240.90 L335.80 241.29 L339.60 241.67 L343.40 242.04 L347.20 242.41 L351.00 242.77 L354.80 243.13 L358.60 243.48 L362.40 243.83" stroke="rgb(0,190,250)"/>
<path d="M58.40 173.15 L62.20 175.69 L66.00 178.21 L69.80 180.72 L73.60 183.20 L77.40 185.66 L81.20 188.08 L85.00 190.48 L88.80 192.85 L92.60 195.18 L96.40 197.48 L100.20 199.73 L104.00 201.95 L107.80 204.11 L111.60 206.20 L115.40 208.23 L119.20 210.17 L123.00 212.02 L126.80 213.78 L130.60 215.47 L134.40 217.09 L138.20 218.65 L142.00 220.17 L145.80 221.64 L149.60 223.08 L153.40 224.47 L157.20 225.83 L161.00 227.16 L164.80 228.45 L168.60 229.71 L172.40 230.94 L176.20 232.14 L180.00 233.31 L183.80 234.45 L187.60 235.57 L191.40 236.66 L195.20 237.72 L199.00 238.76 L202.80 239.78 L206.60 240.77 L210.40 241.74 L214.20 242.70 L218.00 243.63 L221.80 244.54 L225.60 245.43 L229.40 246.30 L233.20 247.16 L237.00 248.00 L240.80 248.82 L244.60 249.62 L248.40 250.41 L252.20 251.18 L256.00 251.94 L259.80 252.68 L263.60 253.41 L267.40 254.13 L271.20 254.83 L275.00 255.52 L278.80 256.20 L282.60 256.86 L286.40 257.51 L290.20 258.16 L294.00 258.79 L297.80 259.40 L301.60 260.01 L305.40 260.61 L309.20 261.20 L313.00 261.77 L316.80 262.34 L320.60 262.90 L324.40 263.45 L328.20 263.99 L332.00 264.52 L335.80 265.04 L339.60 265.55 L343.40 266.06 L347.20 266.56 L351.00 267.05 L354.80 267.53 L358.60 268.01 L362.40 268.47" stroke="rgb(0,220,255)"/>
<path d="M58.40 173.15 L62.20 176.36 L66.00 179.55 L69.80 182.72 L73.60 185.87 L77.40 188.99 L81.20 192.08 L85.00 195.14 L88.80 198.15 L92.60 201.13 L96.40 204.07 L100.20 206.95 L104.00 209.79 L107.80 212.56 L111.60 215.25 L115.40 217.85 L119.20 220.34 L123.00 222.72 L126.80 225.00 L130.60 227.17 L134.40 229.27 L138.20 231.29 L142.00 233.24 L145.80 235.15 L149.60 237.00 L153.40 238.81 L157.20 240.57 L161.00 242.28 L164.80 243.96 L168.60 245.58 L172.40 247.17 L176.20 248.72 L180.00 250.24 L183.80 251.71 L187.60 253.15 L191.40 254.55 L195.20 255.93 L199.00 257.27 L202.80 258.57 L206.60 259.85 L210.40 261.10 L214.20 262.32 L218.00 263.51 L221.80 264.67 L225.60 265.81 L229.40 266.92 L233.20 268.01 L237.00 269.07 L240.80 270.11 L244.60 271.12 L248.40 272.11 L252.20 273.08 L256.00 274.03 L259.80 274.96 L263.60 275.86 L267.40 276.75 L271.20 277.62 L275.00 278.46 L278.80 279.29 L282.60 280.10 L286.40 280.89 L290.20 281.67 L294.00 282.42 L297.80 283.17 L301.60 283.89 L305.40 284.60 L309.20 285.29 L313.00 285.96 L316.80 286.62 L320.60 287.27 L324.40 287.90 L328.20 288.52 L332.00 289.12 L335.80 289.70 L339.60 290.28 L343.40 290.84 L347.20 291.39 L351.00 291.92 L354.80 292.44 L358.60 292.95 L362.40 293.44" stroke="rgb(0,245,255)"/>
</g>
<rect x="58.40" y="28.90" width="304.00" height="288.50" fill="none" stroke="#000" stroke-width="1.40"/>
<path d="M88.80 317.40v-6.00 M88.80 28.90v6.00 M119.20 317.40v-6.00 M119.20 28.90v6.00 M149.60 317.40v-6.00 M149.60 28.90v6.00 M180.00 317.40v-6.00 M180.00 28.90v6.00 M210.40 317.40v-12.80 M210.40 28.90v12.80 M240.80 317.40v-6.00 M240.80 28.90v6.00 M271.20 317.40v-6.00 M271.20 28.90v6.00 M301.60 317.40v-6.00 M301.60 28.90v6.00 M332.00 317.40v-6.00 M332.00 28.90v6.00 M58.40 64.96h6.00 M362.40 64.96h-6.00 M58.40 101.03h12.80 M362.40 101.03h-12.80 M58.40 137.09h6.00 M362.40 137.09h-6.00 M58.40 173.15h12.80 M362.40 173.15h-12.80 M58.40 209.21h6.00 M362.40 209.21h-6.00 M58.40 245.28h12.80 M362.40 245.28h-12.80 M58.40 281.34h6.00 M362.40 281.34h-6.00 " stroke="#000" stroke-width="1.15" fill="none"/>
<g clip-path="url(#cb)" fill="none" stroke-width="2.15" stroke-linejoin="round">
<path d="M392.75 28.90 L392.75 28.90 L393.77 29.86 L393.77 29.86 L394.78 30.83 L394.78 30.83 L395.80 31.79 L395.80 31.79 L396.81 32.76 L396.81 32.76 L397.83 33.72 L397.83 33.72 L398.84 34.69 L398.84 34.69 L399.86 35.65 L399.86 35.65 L400.87 36.62 L400.87 36.62 L401.89 37.58 L401.89 37.58 L402.91 38.55 L402.91 38.55 L403.92 39.51 L403.92 39.51 L404.94 40.48 L404.94 40.48 L405.95 41.44 L405.95 41.44 L406.97 42.41 L406.97 42.41 L407.98 43.37 L407.98 43.37 L409.00 44.34 L409.00 44.34 L410.01 45.30 L410.01 45.30 L411.03 46.27 L411.03 46.27 L412.05 47.23 L412.05 47.23 L413.06 48.20 L413.06 48.20 L414.08 49.16 L414.08 49.16 L415.09 50.13 L415.09 50.13 L416.11 51.09 L416.11 51.09 L417.12 52.06 L417.12 52.06 L418.14 53.02 L418.14 53.02 L419.15 53.99 L419.15 53.99 L420.17 54.95 L420.17 54.95 L421.19 55.92 L421.19 55.92 L422.20 56.88 L422.20 56.88 L423.22 57.85 L423.22 57.85 L424.23 58.81 L424.23 58.81 L425.25 59.78 L425.25 59.78 L426.26 60.74 L426.26 60.74 L427.28 61.71 L427.28 61.71 L428.29 62.67 L428.29 62.67 L429.31 63.64 L429.31 63.64 L430.33 64.60 L430.33 64.60 L431.34 65.57 L431.34 65.57 L432.36 66.53 L432.36 66.53 L433.37 67.50 L433.37 67.50 L434.39 68.46 L434.39 68.46 L435.40 69.43 L435.40 69.43 L436.42 70.39 L436.42 70.39 L437.43 71.35 L437.43 71.35 L438.45 72.32 L438.45 72.32 L439.47 73.28 L439.47 73.28 L440.48 74.25 L440.48 74.25 L441.50 75.21 L441.50 75.21 L442.51 76.18 L442.51 76.18 L443.53 77.14 L443.53 77.14 L444.54 78.11 L444.54 78.11 L445.56 79.07 L445.56 79.07 L446.57 80.04 L446.57 80.04 L447.59 81.00 L447.59 81.00 L448.61 81.97 L448.61 81.97 L449.62 82.93 L449.62 82.93 L450.64 83.90 L450.64 83.90 L451.65 84.86 L451.65 84.86 L452.67 85.83 L452.67 85.83 L453.68 86.79 L453.68 86.79 L454.70 87.76 L454.70 87.76 L455.71 88.72 L455.71 88.72 L456.73 89.69 L456.73 89.69 L457.75 90.65 L457.75 90.65 L458.76 91.62 L458.76 91.62 L459.78 92.58 L459.78 92.58 L460.79 93.55 L460.79 93.55 L461.81 94.51 L461.81 94.51 L462.82 95.48 L462.82 95.48 L463.84 96.44 L463.84 96.44 L464.85 97.41 L464.85 97.41 L465.87 98.37 L465.87 98.37 L466.89 99.34 L466.89 99.34 L467.90 100.30 L467.90 100.30 L468.92 101.27 L468.92 101.27 L469.93 102.23 L469.93 102.23 L470.95 103.20 L470.95 103.20 L471.96 104.16 L471.96 104.16 L472.98 105.13 L472.98 105.13 L473.99 106.09 L473.99 106.09 L475.01 107.06 L475.01 107.06 L476.03 108.02 L476.03 108.02 L477.04 108.99 L477.04 108.99 L478.06 109.95 L478.06 109.95 L479.07 110.92 L479.07 110.92 L480.09 111.88 L480.09 111.88 L481.10 112.84 L481.10 112.84 L482.12 113.81 L482.12 113.81 L483.13 114.77 L483.13 114.77 L484.15 115.74 L484.15 115.74 L485.17 116.70 L485.17 116.70 L486.18 117.67 L486.18 117.67 L487.20 118.63 L487.20 118.63 L488.21 119.60 L488.21 119.60 L489.23 120.56 L489.23 120.56 L490.24 121.53 L490.24 121.53 L491.26 122.49 L491.26 122.49 L492.27 123.46 L492.27 123.46 L493.29 124.42 L493.29 124.42 L494.31 125.39 L494.31 125.39 L495.32 126.35 L495.32 126.35 L496.34 127.32 L496.34 127.32 L497.35 128.28 L497.35 128.28 L498.37 129.25 L498.37 129.25 L499.38 130.21 L499.38 130.21 L500.40 131.18 L500.40 131.18 L501.41 132.14 L501.41 132.14 L502.43 133.11 L502.43 133.11 L503.45 134.07 L503.45 134.07 L504.46 135.04 L504.46 135.04 L505.48 136.00 L505.48 136.00 L506.49 136.97 L506.49 136.97 L507.51 137.93 L507.51 137.93 L508.52 138.90 L508.52 138.90 L509.54 139.86 L509.54 139.86 L510.55 140.83 L510.55 140.83 L511.57 141.79 L511.57 141.79 L512.59 142.76 L512.59 142.76 L513.60 143.72 L513.60 143.72 L514.62 144.69 L514.62 144.69 L515.63 145.65 L515.63 145.65 L516.65 146.62 L516.65 146.62 L517.66 147.58 L517.66 147.58 L518.68 148.55 L518.68 148.55 L519.69 149.51 L519.69 149.51 L520.71 150.48 L520.71 150.48 L521.73 151.44 L521.73 151.44 L522.74 152.41 L522.74 152.41 L523.76 153.37 L523.76 153.37 L524.77 154.33 L524.77 154.33 L525.79 155.30 L525.79 155.30 L526.80 156.26 L526.80 156.26 L527.82 157.23 L527.82 157.23 L528.83 158.19 L528.83 158.19 L529.85 159.16 L529.85 159.16 L530.87 160.12 L530.87 160.12 L531.88 161.09 L531.88 161.09 L532.90 162.05 L532.90 162.05 L533.91 163.02 L533.91 163.02 L534.93 163.98 L534.93 163.98 L535.94 164.95 L535.94 164.95 L536.96 165.91 L536.96 165.91 L537.97 166.88 L537.97 166.88 L538.99 167.84 L538.99 167.84 L540.01 168.81 L540.01 168.81 L541.02 169.77 L541.02 169.77 L542.04 170.74 L542.04 170.74 L543.05 171.70 L543.05 171.70 L544.07 172.67 L544.07 172.67 L545.08 173.63 L545.08 173.63 L546.10 174.60 L546.10 174.60 L547.11 175.56 L547.11 175.56 L548.13 176.53 L548.13 176.53 L549.14 177.49 L549.14 177.49 L550.16 178.46 L550.16 178.46 L551.18 179.42 L551.18 179.42 L552.19 180.39 L552.19 180.39 L553.21 181.35 L553.21 181.35 L554.22 182.32 L554.22 182.32 L555.24 183.28 L555.24 183.28 L556.25 184.25 L556.25 184.25 L557.27 185.21 L557.27 185.21 L558.28 186.18 L558.28 186.18 L559.30 187.14 L559.30 187.14 L560.32 188.11 L560.32 188.11 L561.33 189.07 L561.33 189.07 L562.35 190.04 L562.35 190.04 L563.36 191.00 L563.36 191.00 L564.38 191.97 L564.38 191.97 L565.39 192.93 L565.39 192.93 L566.41 193.89 L566.41 193.89 L567.42 194.86 L567.42 194.86 L568.44 195.82 L568.44 195.82 L569.46 196.79 L569.46 196.79 L570.47 197.75 L570.47 197.75 L571.49 198.72 L571.49 198.72 L572.50 199.68 L572.50 199.68 L573.52 200.65 L573.52 200.65 L574.53 201.61 L574.53 201.61 L575.55 202.58 L575.55 202.58 L576.56 203.54 L576.56 203.54 L577.58 204.51 L577.58 204.51 L578.60 205.47 L578.60 205.47 L579.61 206.44 L579.61 206.44 L580.63 207.40 L580.63 207.40 L581.64 208.37 L581.64 208.37 L582.66 209.33 L582.66 209.33 L583.67 210.30 L583.67 210.30 L584.69 211.26 L584.69 211.26 L585.70 212.23 L585.70 212.23 L586.72 213.19 L586.72 213.19 L587.74 214.16 L587.74 214.16 L588.75 215.12 L588.75 215.12 L589.77 216.09 L589.77 216.09 L590.78 217.05 L590.78 217.05 L591.80 218.02 L591.80 218.02 L592.81 218.98 L592.81 218.98 L593.83 219.95 L593.83 219.95 L594.84 220.91 L594.84 220.91 L595.86 221.88 L595.86 221.88 L596.88 222.84 L596.88 222.84 L597.89 223.81 L597.89 223.81 L598.91 224.77 L598.91 224.77 L599.92 225.74 L599.92 225.74 L600.94 226.70 L600.94 226.70 L601.95 227.67 L601.95 227.67 L602.97 228.63 L602.97 228.63 L603.98 229.60 L603.98 229.60 L605.00 230.56 L605.00 230.56 L606.02 231.53 L606.02 231.53 L607.03 232.49 L607.03 232.49 L608.05 233.46 L608.05 233.46 L609.06 234.42 L609.06 234.42 L610.08 235.38 L610.08 235.38 L611.09 236.35 L611.09 236.35 L612.11 237.31 L612.11 237.31 L613.12 238.28 L613.12 238.28 L614.14 239.24 L614.14 239.24 L615.16 240.21 L615.16 240.21 L616.17 241.17 L616.17 241.17 L617.19 242.14 L617.19 242.14 L618.20 243.10 L618.20 243.10 L619.22 244.07 L619.22 244.07 L620.23 245.03 L620.23 245.03 L621.25 246.00 L621.25 246.00 L622.26 246.96 L622.26 246.96 L623.28 247.93 L623.28 247.93 L624.30 248.89 L624.30 248.89 L625.31 249.86 L625.31 249.86 L626.33 250.82 L626.33 250.82 L627.34 251.79 L627.34 251.79 L628.36 252.75 L628.36 252.75 L629.37 253.72 L629.37 253.72 L630.39 254.68 L630.39 254.68 L631.40 255.65 L631.40 255.65 L632.42 256.61 L632.42 256.61 L633.44 257.58 L633.44 257.58 L634.45 258.54 L634.45 258.54 L635.47 259.51 L635.47 259.51 L636.48 260.47 L636.48 260.47 L637.50 261.44 L637.50 261.44 L638.51 262.40 L638.51 262.40 L639.53 263.37 L639.53 263.37 L640.54 264.33 L640.54 264.33 L641.56 265.30 L641.56 265.30 L642.58 266.26 L642.58 266.26 L643.59 267.23 L643.59 267.23 L644.61 268.19 L644.61 268.19 L645.62 269.16 L645.62 269.16 L646.64 270.12 L646.64 270.12 L647.65 271.09 L647.65 271.09 L648.67 272.05 L648.67 272.05 L649.68 273.02 L649.68 273.02 L650.70 273.98 L650.70 273.98 L651.72 274.95 L651.72 274.95 L652.73 275.91 L652.73 275.91 L653.75 276.87 L653.75 276.87 L654.76 277.84 L654.76 277.84 L655.78 278.80 L655.78 278.80 L656.79 279.77 L656.79 279.77 L657.81 280.73 L657.81 280.73 L658.82 281.70 L658.82 281.70 L659.84 282.66 L659.84 282.66 L660.86 283.63 L660.86 283.63 L661.87 284.59 L661.87 284.59 L662.89 285.56 L662.89 285.56 L663.90 286.52 L663.90 286.52 L664.92 287.49 L664.92 287.49 L665.93 288.45 L665.93 288.45 L666.95 289.42 L666.95 289.42 L667.96 290.38 L667.96 290.38 L668.98 291.35 L668.98 291.35 L670.00 292.31 L670.00 292.31 L671.01 293.28 L671.01 293.28 L672.03 294.24 L672.03 294.24 L673.04 295.21 L673.04 295.21 L674.06 296.17 L674.06 296.17 L675.07 297.14 L675.07 297.14 L676.09 298.10 L676.09 298.10 L677.10 299.07 L677.10 299.07 L678.12 300.03 L678.12 300.03 L679.14 301.00 L679.14 301.00 L680.15 301.96 L680.15 301.96 L681.17 302.93 L681.17 302.93 L682.18 303.89 L682.18 303.89 L683.20 304.86 L683.20 304.86 L684.21 305.82 L684.21 305.82 L685.23 306.79 L685.23 306.79 L686.24 307.75 L686.24 307.75 L687.26 308.72 L687.26 308.72 L688.28 309.68 L688.28 309.68 L689.29 310.65 L689.29 310.65 L690.31 311.61 L690.31 311.61 L691.32 312.58 L691.32 312.58 L692.34 313.54 L692.34 313.54 L693.35 314.51 L693.35 314.51 L694.37 315.47 L694.37 315.47 L695.38 316.44 L695.38 316.44 L696.40 317.40 L696.40 317.40" stroke="#ff0000"/>
<path d="M420.77 28.90 L420.78 29.86 L420.81 30.83 L420.86 31.79 L420.93 32.76 L421.02 33.72 L421.13 34.69 L421.19 35.11 L421.26 35.65 L421.41 36.62 L421.58 37.58 L421.77 38.55 L421.97 39.51 L422.19 40.48 L422.20 40.51 L422.43 41.44 L422.69 42.41 L422.97 43.37 L423.22 44.20 L423.26 44.34 L423.57 45.30 L423.89 46.27 L424.23 47.23 L424.23 47.25 L424.58 48.20 L424.95 49.16 L425.25 49.93 L425.33 50.13 L425.72 51.09 L426.13 52.06 L426.26 52.38 L426.54 53.02 L426.97 53.99 L427.28 54.65 L427.42 54.95 L427.87 55.92 L428.29 56.80 L428.34 56.88 L428.81 57.85 L429.30 58.81 L429.31 58.84 L429.79 59.78 L430.29 60.74 L430.33 60.80 L430.81 61.71 L431.33 62.67 L431.34 62.69 L431.86 63.64 L432.36 64.52 L432.40 64.60 L432.95 65.57 L433.37 66.31 L433.50 66.53 L434.06 67.50 L434.39 68.05 L434.63 68.46 L435.21 69.43 L435.40 69.75 L435.79 70.39 L436.38 71.35 L436.42 71.42 L436.98 72.32 L437.43 73.05 L437.58 73.28 L438.19 74.25 L438.45 74.67 L438.80 75.21 L439.42 76.18 L439.47 76.25 L440.04 77.14 L440.48 77.81 L440.67 78.11 L441.31 79.07 L441.50 79.36 L441.95 80.04 L442.51 80.88 L442.59 81.00 L443.24 81.97 L443.53 82.39 L443.90 82.93 L444.54 83.88 L444.56 83.90 L445.22 84.86 L445.56 85.35 L445.89 85.83 L446.56 86.79 L446.57 86.81 L447.24 87.76 L447.59 88.26 L447.92 88.72 L448.60 89.69 L448.61 89.69 L449.29 90.65 L449.62 91.11 L449.98 91.62 L450.64 92.52 L450.68 92.58 L451.38 93.55 L451.65 93.92 L452.08 94.51 L452.67 95.31 L452.79 95.48 L453.50 96.44 L453.68 96.69 L454.22 97.41 L454.70 98.05 L454.94 98.37 L455.66 99.34 L455.71 99.41 L456.38 100.30 L456.73 100.76 L457.11 101.27 L457.75 102.10 L457.84 102.23 L458.58 103.20 L458.76 103.44 L459.31 104.16 L459.78 104.76 L460.06 105.13 L460.79 106.08 L460.80 106.09 L461.55 107.06 L461.81 107.39 L462.30 108.02 L462.82 108.69 L463.05 108.99 L463.81 109.95 L463.84 109.99 L464.57 110.92 L464.85 111.27 L465.34 111.88 L465.87 112.55 L466.10 112.84 L466.87 113.81 L466.89 113.83 L467.64 114.77 L467.90 115.09 L468.42 115.74 L468.92 116.36 L469.20 116.70 L469.93 117.61 L469.98 117.67 L470.76 118.63 L470.95 118.86 L471.55 119.60 L471.96 120.10 L472.34 120.56 L472.98 121.34 L473.14 121.53 L473.93 122.49 L473.99 122.57 L474.73 123.46 L475.01 123.79 L475.54 124.42 L476.03 125.01 L476.34 125.39 L477.04 126.22 L477.15 126.35 L477.96 127.32 L478.06 127.43 L478.78 128.28 L479.07 128.63 L479.60 129.25 L480.09 129.83 L480.42 130.21 L481.10 131.02 L481.24 131.18 L482.07 132.14 L482.12 132.20 L482.90 133.11 L483.13 133.38 L483.73 134.07 L484.15 134.56 L484.57 135.04 L485.17 135.73 L485.41 136.00 L486.18 136.89 L486.25 136.97 L487.09 137.93 L487.20 138.05 L487.94 138.90 L488.21 139.20 L488.79 139.86 L489.23 140.35 L489.65 140.83 L490.24 141.50 L490.50 141.79 L491.26 142.64 L491.36 142.76 L492.23 143.72 L492.27 143.77 L493.10 144.69 L493.29 144.90 L493.97 145.65 L494.31 146.03 L494.84 146.62 L495.32 147.15 L495.72 147.58 L496.34 148.26 L496.60 148.55 L497.35 149.37 L497.48 149.51 L498.36 150.48 L498.37 150.48 L499.25 151.44 L499.38 151.58 L500.15 152.41 L500.40 152.68 L501.04 153.37 L501.41 153.77 L501.94 154.33 L502.43 154.86 L502.84 155.30 L503.45 155.94 L503.75 156.26 L504.46 157.02 L504.66 157.23 L505.48 158.09 L505.57 158.19 L506.49 159.16 L506.49 159.16 L507.41 160.12 L507.51 160.23 L508.33 161.09 L508.52 161.29 L509.26 162.05 L509.54 162.35 L510.19 163.02 L510.55 163.40 L511.12 163.98 L511.57 164.45 L512.06 164.95 L512.59 165.49 L513.00 165.91 L513.60 166.53 L513.94 166.88 L514.62 167.57 L514.89 167.84 L515.63 168.60 L515.84 168.81 L516.65 169.63 L516.79 169.77 L517.66 170.65 L517.75 170.74 L518.68 171.67 L518.71 171.70 L519.68 172.67 L519.69 172.68 L520.65 173.63 L520.71 173.69 L521.62 174.60 L521.73 174.70 L522.60 175.56 L522.74 175.70 L523.58 176.53 L523.76 176.70 L524.56 177.49 L524.77 177.70 L525.55 178.46 L525.79 178.69 L526.54 179.42 L526.80 179.68 L527.54 180.39 L527.82 180.66 L528.53 181.35 L528.83 181.64 L529.54 182.32 L529.85 182.62 L530.54 183.28 L530.87 183.59 L531.56 184.25 L531.88 184.56 L532.57 185.21 L532.90 185.52 L533.59 186.18 L533.91 186.48 L534.61 187.14 L534.93 187.44 L535.64 188.11 L535.94 188.39 L536.67 189.07 L536.96 189.34 L537.71 190.04 L537.97 190.29 L538.74 191.00 L538.99 191.23 L539.79 191.97 L540.01 192.17 L540.84 192.93 L541.02 193.10 L541.89 193.89 L542.04 194.03 L542.94 194.86 L543.05 194.96 L544.00 195.82 L544.07 195.88 L545.07 196.79 L545.08 196.80 L546.10 197.72 L546.13 197.75 L547.11 198.64 L547.21 198.72 L548.13 199.55 L548.28 199.68 L549.14 200.45 L549.37 200.65 L550.16 201.36 L550.45 201.61 L551.18 202.26 L551.54 202.58 L552.19 203.15 L552.64 203.54 L553.21 204.05 L553.73 204.51 L554.22 204.94 L554.84 205.47 L555.24 205.82 L555.95 206.44 L556.25 206.71 L557.06 207.40 L557.27 207.59 L558.17 208.37 L558.28 208.46 L559.30 209.33 L559.30 209.34 L560.32 210.21 L560.42 210.30 L561.33 211.07 L561.55 211.26 L562.35 211.94 L562.69 212.23 L563.36 212.80 L563.83 213.19 L564.38 213.66 L564.97 214.16 L565.39 214.51 L566.12 215.12 L566.41 215.36 L567.28 216.09 L567.42 216.21 L568.44 217.05 L568.44 217.05 L569.46 217.90 L569.60 218.02 L570.47 218.74 L570.77 218.98 L571.49 219.57 L571.94 219.95 L572.50 220.40 L573.12 220.91 L573.52 221.23 L574.31 221.88 L574.53 222.06 L575.50 222.84 L575.55 222.88 L576.56 223.71 L576.69 223.81 L577.58 224.52 L577.89 224.77 L578.60 225.34 L579.09 225.74 L579.61 226.15 L580.30 226.70 L580.63 226.96 L581.52 227.67 L581.64 227.76 L582.66 228.57 L582.74 228.63 L583.67 229.37 L583.96 229.60 L584.69 230.16 L585.19 230.56 L585.70 230.96 L586.43 231.53 L586.72 231.75 L587.67 232.49 L587.74 232.54 L588.75 233.32 L588.92 233.46 L589.77 234.11 L590.17 234.42 L590.78 234.89 L591.43 235.38 L591.80 235.66 L592.70 236.35 L592.81 236.44 L593.83 237.21 L593.97 237.31 L594.84 237.98 L595.24 238.28 L595.86 238.74 L596.53 239.24 L596.88 239.51 L597.82 240.21 L597.89 240.27 L598.91 241.02 L599.11 241.17 L599.92 241.78 L600.41 242.14 L600.94 242.53 L601.72 243.10 L601.95 243.28 L602.97 244.02 L603.03 244.07 L603.98 244.77 L604.35 245.03 L605.00 245.51 L605.68 246.00 L606.02 246.24 L607.01 246.96 L607.03 246.98 L608.05 247.71 L608.35 247.93 L609.06 248.44 L609.70 248.89 L610.08 249.16 L611.06 249.86 L611.09 249.88 L612.11 250.60 L612.42 250.82 L613.12 251.32 L613.79 251.79 L614.14 252.03 L615.16 252.74 L615.17 252.75 L616.17 253.45 L616.55 253.72 L617.19 254.16 L617.95 254.68 L618.20 254.86 L619.22 255.56 L619.35 255.65 L620.23 256.25 L620.76 256.61 L621.25 256.94 L622.18 257.58 L622.26 257.63 L623.28 258.32 L623.62 258.54 L624.30 259.00 L625.06 259.51 L625.31 259.68 L626.33 260.35 L626.51 260.47 L627.34 261.03 L627.97 261.44 L628.36 261.69 L629.37 262.36 L629.44 262.40 L630.39 263.02 L630.92 263.37 L631.40 263.68 L632.42 264.33 L632.42 264.33 L633.44 264.98 L633.93 265.30 L634.45 265.63 L635.45 266.26 L635.47 266.27 L636.48 266.91 L636.98 267.23 L637.50 267.55 L638.51 268.18 L638.54 268.19 L639.53 268.80 L640.10 269.16 L640.54 269.43 L641.56 270.04 L641.69 270.12 L642.58 270.66 L643.29 271.09 L643.59 271.26 L644.61 271.87 L644.92 272.05 L645.62 272.47 L646.56 273.02 L646.64 273.06 L647.65 273.65 L648.23 273.98 L648.67 274.23 L649.68 274.81 L649.93 274.95 L650.70 275.38 L651.65 275.91 L651.72 275.95 L652.73 276.51 L653.41 276.87 L653.75 277.06 L654.76 277.61 L655.20 277.84 L655.78 278.15 L656.79 278.68 L657.03 278.80 L657.81 279.21 L658.82 279.73 L658.91 279.77 L659.84 280.24 L660.83 280.73 L660.86 280.74 L661.87 281.24 L662.83 281.70 L662.89 281.73 L663.90 282.21 L664.89 282.66 L664.92 282.68 L665.93 283.14 L666.95 283.59 L667.04 283.63 L667.96 284.03 L668.98 284.46 L669.29 284.59 L670.00 284.88 L671.01 285.29 L671.69 285.56 L672.03 285.69 L673.04 286.08 L674.06 286.45 L674.26 286.52 L675.07 286.81 L676.09 287.16 L677.09 287.49 L677.10 287.49 L678.12 287.81 L679.14 288.12 L680.15 288.41 L680.30 288.45 L681.17 288.69 L682.18 288.95 L683.20 289.20 L684.18 289.42 L684.21 289.43 L685.23 289.64 L686.24 289.83 L687.26 290.01 L688.28 290.17 L689.29 290.31 L689.87 290.38 L690.31 290.43 L691.32 290.54 L692.34 290.63 L693.35 290.69 L694.37 290.74 L695.38 290.77 L696.40 290.78" stroke="#ff0000" stroke-dasharray="10 5.3"/>
<path d="M392.75 33.82 L393.77 34.04 L394.78 34.64 L394.84 34.69 L395.80 35.52 L395.93 35.65 L396.81 36.59 L396.84 36.62 L397.67 37.58 L397.83 37.77 L398.46 38.55 L398.84 39.03 L399.22 39.51 L399.86 40.35 L399.96 40.48 L400.69 41.44 L400.87 41.69 L401.41 42.41 L401.89 43.06 L402.12 43.37 L402.82 44.34 L402.91 44.45 L403.52 45.30 L403.92 45.85 L404.22 46.27 L404.91 47.23 L404.94 47.27 L405.60 48.20 L405.95 48.68 L406.29 49.16 L406.97 50.11 L406.98 50.13 L407.67 51.09 L407.98 51.54 L408.35 52.06 L409.00 52.97 L409.04 53.02 L409.72 53.99 L410.01 54.40 L410.41 54.95 L411.03 55.83 L411.09 55.92 L411.77 56.88 L412.05 57.27 L412.45 57.85 L413.06 58.71 L413.14 58.81 L413.82 59.78 L414.08 60.14 L414.50 60.74 L415.09 61.58 L415.18 61.71 L415.87 62.67 L416.11 63.01 L416.55 63.64 L417.12 64.44 L417.24 64.60 L417.92 65.57 L418.14 65.87 L418.60 66.53 L419.15 67.30 L419.29 67.50 L419.98 68.46 L420.17 68.73 L420.66 69.43 L421.19 70.16 L421.35 70.39 L422.04 71.35 L422.20 71.58 L422.73 72.32 L423.22 73.00 L423.42 73.28 L424.11 74.25 L424.23 74.42 L424.80 75.21 L425.25 75.84 L425.49 76.18 L426.18 77.14 L426.26 77.26 L426.88 78.11 L427.28 78.67 L427.57 79.07 L428.27 80.04 L428.29 80.08 L428.96 81.00 L429.31 81.48 L429.66 81.97 L430.33 82.88 L430.36 82.93 L431.06 83.90 L431.34 84.28 L431.76 84.86 L432.36 85.68 L432.47 85.83 L433.17 86.79 L433.37 87.07 L433.87 87.76 L434.39 88.46 L434.58 88.72 L435.29 89.69 L435.40 89.84 L436.00 90.65 L436.42 91.23 L436.71 91.62 L437.42 92.58 L437.43 92.60 L438.13 93.55 L438.45 93.98 L438.85 94.51 L439.47 95.35 L439.56 95.48 L440.28 96.44 L440.48 96.71 L441.00 97.41 L441.50 98.07 L441.72 98.37 L442.44 99.34 L442.51 99.43 L443.16 100.30 L443.53 100.78 L443.89 101.27 L444.54 102.13 L444.62 102.23 L445.35 103.20 L445.56 103.48 L446.08 104.16 L446.57 104.82 L446.81 105.13 L447.54 106.09 L447.59 106.15 L448.28 107.06 L448.61 107.49 L449.01 108.02 L449.62 108.81 L449.75 108.99 L450.49 109.95 L450.64 110.14 L451.24 110.92 L451.65 111.45 L451.98 111.88 L452.67 112.77 L452.73 112.84 L453.48 113.81 L453.68 114.07 L454.23 114.77 L454.70 115.38 L454.98 115.74 L455.71 116.68 L455.74 116.70 L456.49 117.67 L456.73 117.97 L457.25 118.63 L457.75 119.26 L458.01 119.60 L458.76 120.54 L458.78 120.56 L459.54 121.53 L459.78 121.82 L460.31 122.49 L460.79 123.10 L461.08 123.46 L461.81 124.37 L461.85 124.42 L462.63 125.39 L462.82 125.63 L463.40 126.35 L463.84 126.89 L464.18 127.32 L464.85 128.15 L464.97 128.28 L465.75 129.25 L465.87 129.40 L466.54 130.21 L466.89 130.64 L467.33 131.18 L467.90 131.88 L468.12 132.14 L468.91 133.11 L468.92 133.11 L469.71 134.07 L469.93 134.34 L470.51 135.04 L470.95 135.57 L471.31 136.00 L471.96 136.79 L472.11 136.97 L472.92 137.93 L472.98 138.00 L473.73 138.90 L473.99 139.21 L474.55 139.86 L475.01 140.41 L475.36 140.83 L476.03 141.61 L476.18 141.79 L477.00 142.76 L477.04 142.80 L477.83 143.72 L478.06 143.99 L478.65 144.69 L479.07 145.17 L479.48 145.65 L480.09 146.35 L480.32 146.62 L481.10 147.52 L481.15 147.58 L481.99 148.55 L482.12 148.69 L482.83 149.51 L483.13 149.85 L483.68 150.48 L484.15 151.01 L484.53 151.44 L485.17 152.16 L485.38 152.41 L486.18 153.31 L486.24 153.37 L487.09 154.33 L487.20 154.45 L487.96 155.30 L488.21 155.59 L488.82 156.26 L489.23 156.72 L489.69 157.23 L490.24 157.84 L490.56 158.19 L491.26 158.96 L491.44 159.16 L492.27 160.08 L492.31 160.12 L493.20 161.09 L493.29 161.19 L494.08 162.05 L494.31 162.30 L494.97 163.02 L495.32 163.40 L495.86 163.98 L496.34 164.49 L496.76 164.95 L497.35 165.59 L497.66 165.91 L498.37 166.67 L498.56 166.88 L499.38 167.75 L499.47 167.84 L500.38 168.81 L500.40 168.83 L501.29 169.77 L501.41 169.90 L502.21 170.74 L502.43 170.97 L503.13 171.70 L503.45 172.03 L504.06 172.67 L504.46 173.08 L504.99 173.63 L505.48 174.13 L505.92 174.60 L506.49 175.18 L506.86 175.56 L507.51 176.22 L507.80 176.53 L508.52 177.26 L508.75 177.49 L509.54 178.29 L509.70 178.46 L510.55 179.32 L510.65 179.42 L511.57 180.34 L511.61 180.39 L512.58 181.35 L512.59 181.36 L513.54 182.32 L513.60 182.37 L514.51 183.28 L514.62 183.38 L515.49 184.25 L515.63 184.39 L516.47 185.21 L516.65 185.39 L517.45 186.18 L517.66 186.38 L518.44 187.14 L518.68 187.37 L519.43 188.11 L519.69 188.36 L520.43 189.07 L520.71 189.34 L521.43 190.04 L521.73 190.32 L522.44 191.00 L522.74 191.29 L523.45 191.97 L523.76 192.26 L524.46 192.93 L524.77 193.23 L525.48 193.89 L525.79 194.19 L526.50 194.86 L526.80 195.14 L527.53 195.82 L527.82 196.09 L528.57 196.79 L528.83 197.04 L529.60 197.75 L529.85 197.98 L530.65 198.72 L530.87 198.92 L531.69 199.68 L531.88 199.86 L532.75 200.65 L532.90 200.79 L533.80 201.61 L533.91 201.71 L534.87 202.58 L534.93 202.63 L535.93 203.54 L535.94 203.55 L536.96 204.47 L537.00 204.51 L537.97 205.38 L538.08 205.47 L538.99 206.28 L539.16 206.44 L540.01 207.19 L540.25 207.40 L541.02 208.09 L541.34 208.37 L542.04 208.98 L542.44 209.33 L543.05 209.87 L543.54 210.30 L544.07 210.76 L544.65 211.26 L545.08 211.64 L545.76 212.23 L546.10 212.52 L546.87 213.19 L547.11 213.40 L548.00 214.16 L548.13 214.27 L549.12 215.12 L549.14 215.14 L550.16 216.01 L550.26 216.09 L551.18 216.87 L551.39 217.05 L552.19 217.73 L552.54 218.02 L553.21 218.58 L553.69 218.98 L554.22 219.43 L554.84 219.95 L555.24 220.28 L556.00 220.91 L556.25 221.12 L557.16 221.88 L557.27 221.97 L558.28 222.80 L558.33 222.84 L559.30 223.64 L559.51 223.81 L560.32 224.47 L560.69 224.77 L561.33 225.30 L561.87 225.74 L562.35 226.12 L563.06 226.70 L563.36 226.94 L564.26 227.67 L564.38 227.76 L565.39 228.58 L565.46 228.63 L566.41 229.39 L566.67 229.60 L567.42 230.20 L567.88 230.56 L568.44 231.01 L569.10 231.53 L569.46 231.81 L570.32 232.49 L570.47 232.61 L571.49 233.41 L571.55 233.46 L572.50 234.20 L572.78 234.42 L573.52 234.99 L574.02 235.38 L574.53 235.78 L575.27 236.35 L575.55 236.57 L576.52 237.31 L576.56 237.35 L577.58 238.13 L577.77 238.28 L578.60 238.91 L579.03 239.24 L579.61 239.69 L580.30 240.21 L580.63 240.46 L581.57 241.17 L581.64 241.23 L582.66 242.00 L582.85 242.14 L583.67 242.76 L584.13 243.10 L584.69 243.52 L585.42 244.07 L585.70 244.28 L586.71 245.03 L586.72 245.04 L587.74 245.79 L588.01 246.00 L588.75 246.55 L589.32 246.96 L589.77 247.30 L590.63 247.93 L590.78 248.04 L591.80 248.79 L591.94 248.89 L592.81 249.53 L593.26 249.86 L593.83 250.27 L594.59 250.82 L594.84 251.01 L595.86 251.75 L595.92 251.79 L596.88 252.48 L597.26 252.75 L597.89 253.21 L598.60 253.72 L598.91 253.94 L599.92 254.67 L599.94 254.68 L600.94 255.39 L601.29 255.65 L601.95 256.12 L602.65 256.61 L602.97 256.84 L603.98 257.56 L604.01 257.58 L605.00 258.27 L605.38 258.54 L606.02 258.99 L606.75 259.51 L607.03 259.70 L608.05 260.41 L608.13 260.47 L609.06 261.12 L609.51 261.44 L610.08 261.83 L610.90 262.40 L611.09 262.54 L612.11 263.24 L612.29 263.37 L613.12 263.94 L613.69 264.33 L614.14 264.64 L615.09 265.30 L615.16 265.34 L616.17 266.04 L616.49 266.26 L617.19 266.74 L617.91 267.23 L618.20 267.43 L619.22 268.12 L619.32 268.19 L620.23 268.81 L620.74 269.16 L621.25 269.50 L622.17 270.12 L622.26 270.19 L623.28 270.87 L623.59 271.09 L624.30 271.56 L625.03 272.05 L625.31 272.24 L626.33 272.92 L626.46 273.02 L627.34 273.60 L627.91 273.98 L628.36 274.28 L629.35 274.95 L629.37 274.96 L630.39 275.64 L630.80 275.91 L631.40 276.31 L632.26 276.87 L632.42 276.98 L633.44 277.66 L633.71 277.84 L634.45 278.33 L635.18 278.80 L635.47 279.00 L636.48 279.67 L636.64 279.77 L637.50 280.33 L638.11 280.73 L638.51 281.00 L639.53 281.66 L639.58 281.70 L640.54 282.33 L641.06 282.66 L641.56 282.99 L642.54 283.63 L642.58 283.65 L643.59 284.32 L644.02 284.59 L644.61 284.98 L645.51 285.56 L645.62 285.63 L646.64 286.29 L646.99 286.52 L647.65 286.95 L648.48 287.49 L648.67 287.61 L649.68 288.26 L649.98 288.45 L650.70 288.92 L651.48 289.42 L651.72 289.57 L652.73 290.23 L652.97 290.38 L653.75 290.88 L654.48 291.35 L654.76 291.53 L655.78 292.18 L655.98 292.31 L656.79 292.84 L657.48 293.28 L657.81 293.49 L658.82 294.14 L658.99 294.24 L659.84 294.79 L660.50 295.21 L660.86 295.44 L661.87 296.08 L662.01 296.17 L662.89 296.73 L663.52 297.14 L663.90 297.38 L664.92 298.03 L665.03 298.10 L665.93 298.68 L666.54 299.07 L666.95 299.33 L667.96 299.98 L668.05 300.03 L668.98 300.63 L669.56 301.00 L670.00 301.27 L671.01 301.92 L671.07 301.96 L672.03 302.58 L672.58 302.93 L673.04 303.23 L674.06 303.88 L674.08 303.89 L675.07 304.53 L675.58 304.86 L676.09 305.19 L677.07 305.82 L677.10 305.84 L678.12 306.50 L678.56 306.79 L679.14 307.16 L680.03 307.75 L680.15 307.83 L681.17 308.50 L681.49 308.72 L682.18 309.18 L682.94 309.68 L683.20 309.86 L684.21 310.55 L684.35 310.65 L685.23 311.25 L685.73 311.61 L686.24 311.98 L687.06 312.58 L687.26 312.73 L688.28 313.52 L688.31 313.54 L689.29 314.38 L689.43 314.51 L690.31 315.41 L690.36 315.47 L690.99 316.44 L691.22 317.40" stroke="#000000"/>
<path d="M392.75 70.95 L393.77 70.98 L394.78 71.06 L395.80 71.21 L396.59 71.35 L396.81 71.40 L397.83 71.65 L398.84 71.96 L399.86 72.31 L399.88 72.32 L400.87 72.72 L401.89 73.18 L402.11 73.28 L402.91 73.68 L403.92 74.23 L403.95 74.25 L404.94 74.83 L405.56 75.21 L405.95 75.46 L406.97 76.14 L407.02 76.18 L407.98 76.86 L408.38 77.14 L409.00 77.61 L409.65 78.11 L410.01 78.39 L410.86 79.07 L411.03 79.21 L412.02 80.04 L412.05 80.06 L413.06 80.94 L413.13 81.00 L414.08 81.85 L414.21 81.97 L415.09 82.78 L415.25 82.93 L416.11 83.74 L416.27 83.90 L417.12 84.72 L417.27 84.86 L418.14 85.72 L418.25 85.83 L419.15 86.74 L419.21 86.79 L420.15 87.76 L420.17 87.78 L421.08 88.72 L421.19 88.83 L422.00 89.69 L422.20 89.90 L422.90 90.65 L423.22 90.99 L423.80 91.62 L424.23 92.09 L424.68 92.58 L425.25 93.20 L425.56 93.55 L426.26 94.33 L426.43 94.51 L427.28 95.46 L427.29 95.48 L428.15 96.44 L428.29 96.61 L429.00 97.41 L429.31 97.76 L429.84 98.37 L430.33 98.93 L430.68 99.34 L431.34 100.10 L431.52 100.30 L432.35 101.27 L432.36 101.27 L433.18 102.23 L433.37 102.46 L434.00 103.20 L434.39 103.65 L434.83 104.16 L435.40 104.84 L435.65 105.13 L436.42 106.04 L436.46 106.09 L437.28 107.06 L437.43 107.24 L438.09 108.02 L438.45 108.45 L438.90 108.99 L439.47 109.66 L439.71 109.95 L440.48 110.87 L440.52 110.92 L441.33 111.88 L441.50 112.08 L442.13 112.84 L442.51 113.30 L442.94 113.81 L443.53 114.52 L443.74 114.77 L444.54 115.74 L444.55 115.74 L445.35 116.70 L445.56 116.96 L446.15 117.67 L446.57 118.18 L446.96 118.63 L447.59 119.40 L447.76 119.60 L448.56 120.56 L448.61 120.62 L449.36 121.53 L449.62 121.84 L450.17 122.49 L450.64 123.06 L450.97 123.46 L451.65 124.27 L451.78 124.42 L452.58 125.39 L452.67 125.49 L453.39 126.35 L453.68 126.71 L454.19 127.32 L454.70 127.92 L455.00 128.28 L455.71 129.13 L455.81 129.25 L456.62 130.21 L456.73 130.34 L457.43 131.18 L457.75 131.55 L458.24 132.14 L458.76 132.76 L459.05 133.11 L459.78 133.96 L459.87 134.07 L460.68 135.04 L460.79 135.16 L461.50 136.00 L461.81 136.36 L462.32 136.97 L462.82 137.56 L463.14 137.93 L463.84 138.75 L463.96 138.90 L464.79 139.86 L464.85 139.94 L465.61 140.83 L465.87 141.13 L466.44 141.79 L466.89 142.31 L467.27 142.76 L467.90 143.49 L468.10 143.72 L468.92 144.67 L468.93 144.69 L469.77 145.65 L469.93 145.84 L470.60 146.62 L470.95 147.01 L471.44 147.58 L471.96 148.18 L472.29 148.55 L472.98 149.34 L473.13 149.51 L473.98 150.48 L473.99 150.50 L474.82 151.44 L475.01 151.65 L475.68 152.41 L476.03 152.80 L476.53 153.37 L477.04 153.95 L477.39 154.33 L478.06 155.09 L478.24 155.30 L479.07 156.23 L479.11 156.26 L479.97 157.23 L480.09 157.36 L480.84 158.19 L481.10 158.49 L481.71 159.16 L482.12 159.62 L482.58 160.12 L483.13 160.74 L483.45 161.09 L484.15 161.85 L484.33 162.05 L485.17 162.97 L485.21 163.02 L486.10 163.98 L486.18 164.07 L486.98 164.95 L487.20 165.18 L487.87 165.91 L488.21 166.28 L488.77 166.88 L489.23 167.37 L489.66 167.84 L490.24 168.46 L490.56 168.81 L491.26 169.55 L491.47 169.77 L492.27 170.63 L492.37 170.74 L493.28 171.70 L493.29 171.71 L494.20 172.67 L494.31 172.78 L495.11 173.63 L495.32 173.85 L496.03 174.60 L496.34 174.91 L496.96 175.56 L497.35 175.97 L497.88 176.53 L498.37 177.03 L498.82 177.49 L499.38 178.08 L499.75 178.46 L500.40 179.12 L500.69 179.42 L501.41 180.17 L501.63 180.39 L502.43 181.20 L502.58 181.35 L503.45 182.24 L503.52 182.32 L504.46 183.26 L504.48 183.28 L505.43 184.25 L505.48 184.29 L506.40 185.21 L506.49 185.31 L507.36 186.18 L507.51 186.32 L508.33 187.14 L508.52 187.33 L509.30 188.11 L509.54 188.34 L510.28 189.07 L510.55 189.34 L511.26 190.04 L511.57 190.34 L512.24 191.00 L512.59 191.33 L513.23 191.97 L513.60 192.32 L514.23 192.93 L514.62 193.31 L515.22 193.89 L515.63 194.29 L516.23 194.86 L516.65 195.26 L517.23 195.82 L517.66 196.24 L518.24 196.79 L518.68 197.20 L519.26 197.75 L519.69 198.17 L520.28 198.72 L520.71 199.13 L521.30 199.68 L521.73 200.08 L522.33 200.65 L522.74 201.04 L523.36 201.61 L523.76 201.98 L524.40 202.58 L524.77 202.93 L525.44 203.54 L525.79 203.87 L526.48 204.51 L526.80 204.80 L527.53 205.47 L527.82 205.74 L528.59 206.44 L528.83 206.66 L529.65 207.40 L529.85 207.59 L530.71 208.37 L530.87 208.51 L531.78 209.33 L531.88 209.42 L532.85 210.30 L532.90 210.34 L533.91 211.25 L533.93 211.26 L534.93 212.15 L535.01 212.23 L535.94 213.05 L536.10 213.19 L536.96 213.95 L537.19 214.16 L537.97 214.85 L538.29 215.12 L538.99 215.74 L539.39 216.09 L540.01 216.63 L540.49 217.05 L541.02 217.51 L541.60 218.02 L542.04 218.39 L542.72 218.98 L543.05 219.27 L543.84 219.95 L544.07 220.14 L544.96 220.91 L545.08 221.01 L546.09 221.88 L546.10 221.88 L547.11 222.75 L547.23 222.84 L548.13 223.61 L548.36 223.81 L549.14 224.47 L549.51 224.77 L550.16 225.32 L550.66 225.74 L551.18 226.17 L551.81 226.70 L552.19 227.02 L552.97 227.67 L553.21 227.87 L554.13 228.63 L554.22 228.71 L555.24 229.55 L555.29 229.60 L556.25 230.39 L556.46 230.56 L557.27 231.22 L557.64 231.53 L558.28 232.05 L558.82 232.49 L559.30 232.88 L560.00 233.46 L560.32 233.71 L561.19 234.42 L561.33 234.53 L562.35 235.35 L562.39 235.38 L563.36 236.17 L563.58 236.35 L564.38 236.99 L564.79 237.31 L565.39 237.80 L565.99 238.28 L566.41 238.61 L567.20 239.24 L567.42 239.42 L568.42 240.21 L568.44 240.23 L569.46 241.03 L569.64 241.17 L570.47 241.83 L570.86 242.14 L571.49 242.63 L572.09 243.10 L572.50 243.43 L573.32 244.07 L573.52 244.23 L574.53 245.02 L574.55 245.03 L575.55 245.81 L575.79 246.00 L576.56 246.60 L577.03 246.96 L577.58 247.39 L578.28 247.93 L578.60 248.17 L579.53 248.89 L579.61 248.96 L580.63 249.74 L580.78 249.86 L581.64 250.52 L582.04 250.82 L582.66 251.30 L583.29 251.79 L583.67 252.08 L584.56 252.75 L584.69 252.85 L585.70 253.63 L585.82 253.72 L586.72 254.40 L587.09 254.68 L587.74 255.18 L588.36 255.65 L588.75 255.95 L589.63 256.61 L589.77 256.72 L590.78 257.49 L590.90 257.58 L591.80 258.25 L592.18 258.54 L592.81 259.02 L593.46 259.51 L593.83 259.79 L594.74 260.47 L594.84 260.55 L595.86 261.32 L596.02 261.44 L596.88 262.08 L597.30 262.40 L597.89 262.85 L598.58 263.37 L598.91 263.61 L599.87 264.33 L599.92 264.37 L600.94 265.14 L601.15 265.30 L601.95 265.90 L602.44 266.26 L602.97 266.66 L603.72 267.23 L603.98 267.43 L605.00 268.19 L605.00 268.19 L606.02 268.95 L606.29 269.16 L607.03 269.72 L607.57 270.12 L608.05 270.48 L608.85 271.09 L609.06 271.25 L610.08 272.01 L610.13 272.05 L611.09 272.78 L611.40 273.02 L612.11 273.55 L612.67 273.98 L613.12 274.32 L613.94 274.95 L614.14 275.09 L615.16 275.87 L615.21 275.91 L616.17 276.64 L616.47 276.87 L617.19 277.42 L617.73 277.84 L618.20 278.20 L618.98 278.80 L619.22 278.99 L620.23 279.77 L620.23 279.78 L621.25 280.57 L621.47 280.73 L622.26 281.36 L622.70 281.70 L623.28 282.16 L623.92 282.66 L624.30 282.96 L625.14 283.63 L625.31 283.77 L626.33 284.58 L626.34 284.59 L627.34 285.40 L627.54 285.56 L628.36 286.23 L628.72 286.52 L629.37 287.06 L629.89 287.49 L630.39 287.90 L631.05 288.45 L631.40 288.75 L632.19 289.42 L632.42 289.61 L633.32 290.38 L633.44 290.48 L634.43 291.35 L634.45 291.37 L635.47 292.26 L635.52 292.31 L636.48 293.17 L636.60 293.28 L637.50 294.10 L637.65 294.24 L638.51 295.05 L638.68 295.21 L639.53 296.02 L639.69 296.17 L640.54 297.01 L640.67 297.14 L641.56 298.04 L641.62 298.10 L642.55 299.07 L642.58 299.10 L643.44 300.03 L643.59 300.19 L644.31 301.00 L644.61 301.34 L645.13 301.96 L645.62 302.55 L645.93 302.93 L646.64 303.84 L646.68 303.89 L647.39 304.86 L647.65 305.23 L648.06 305.82 L648.67 306.76 L648.69 306.79 L649.27 307.75 L649.68 308.50 L649.80 308.72 L650.28 309.68 L650.70 310.63 L650.71 310.65 L651.08 311.61 L651.40 312.58 L651.67 313.54 L651.72 313.75 L651.87 314.51 L652.02 315.47 L652.11 316.44 L652.14 317.40" stroke="#ffa500" stroke-dasharray="10 5.3"/>
<path d="M392.75 88.46 L393.77 88.48 L394.78 88.54 L395.80 88.65 L396.32 88.72 L396.81 88.80 L397.83 88.99 L398.84 89.22 L399.86 89.49 L400.50 89.69 L400.87 89.81 L401.89 90.16 L402.91 90.55 L403.15 90.65 L403.92 90.98 L404.94 91.45 L405.29 91.62 L405.95 91.95 L406.97 92.48 L407.15 92.58 L407.98 93.05 L408.82 93.55 L409.00 93.66 L410.01 94.29 L410.36 94.51 L411.03 94.96 L411.79 95.48 L412.05 95.65 L413.06 96.37 L413.16 96.44 L414.08 97.12 L414.45 97.41 L415.09 97.90 L415.70 98.37 L416.11 98.70 L416.90 99.34 L417.12 99.52 L418.06 100.30 L418.14 100.37 L419.15 101.24 L419.19 101.27 L420.17 102.12 L420.29 102.23 L421.19 103.03 L421.37 103.20 L422.20 103.96 L422.42 104.16 L423.22 104.90 L423.46 105.13 L424.23 105.86 L424.47 106.09 L425.25 106.83 L425.48 107.06 L426.26 107.82 L426.46 108.02 L427.28 108.83 L427.44 108.99 L428.29 109.85 L428.40 109.95 L429.31 110.87 L429.35 110.92 L430.29 111.88 L430.33 111.92 L431.22 112.84 L431.34 112.97 L432.15 113.81 L432.36 114.03 L433.07 114.77 L433.37 115.10 L433.98 115.74 L434.39 116.18 L434.88 116.70 L435.40 117.27 L435.78 117.67 L436.42 118.36 L436.67 118.63 L437.43 119.46 L437.56 119.60 L438.44 120.56 L438.45 120.57 L439.32 121.53 L439.47 121.68 L440.20 122.49 L440.48 122.80 L441.07 123.46 L441.50 123.93 L441.94 124.42 L442.51 125.06 L442.81 125.39 L443.53 126.19 L443.68 126.35 L444.54 127.32 L444.54 127.32 L445.40 128.28 L445.56 128.46 L446.26 129.25 L446.57 129.60 L447.12 130.21 L447.59 130.75 L447.97 131.18 L448.61 131.89 L448.83 132.14 L449.62 133.04 L449.68 133.11 L450.53 134.07 L450.64 134.19 L451.39 135.04 L451.65 135.34 L452.24 136.00 L452.67 136.49 L453.09 136.97 L453.68 137.64 L453.94 137.93 L454.70 138.79 L454.79 138.90 L455.64 139.86 L455.71 139.94 L456.49 140.83 L456.73 141.09 L457.35 141.79 L457.75 142.24 L458.20 142.76 L458.76 143.39 L459.05 143.72 L459.78 144.54 L459.90 144.69 L460.76 145.65 L460.79 145.69 L461.61 146.62 L461.81 146.84 L462.47 147.58 L462.82 147.98 L463.33 148.55 L463.84 149.12 L464.18 149.51 L464.85 150.26 L465.04 150.48 L465.87 151.40 L465.90 151.44 L466.77 152.41 L466.89 152.54 L467.63 153.37 L467.90 153.67 L468.49 154.33 L468.92 154.80 L469.36 155.30 L469.93 155.93 L470.23 156.26 L470.95 157.06 L471.10 157.23 L471.96 158.18 L471.97 158.19 L472.85 159.16 L472.98 159.31 L473.72 160.12 L473.99 160.42 L474.60 161.09 L475.01 161.54 L475.48 162.05 L476.03 162.65 L476.36 163.02 L477.04 163.76 L477.25 163.98 L478.06 164.86 L478.13 164.95 L479.02 165.91 L479.07 165.97 L479.92 166.88 L480.09 167.06 L480.81 167.84 L481.10 168.16 L481.71 168.81 L482.12 169.25 L482.61 169.77 L483.13 170.34 L483.51 170.74 L484.15 171.42 L484.41 171.70 L485.17 172.50 L485.32 172.67 L486.18 173.58 L486.23 173.63 L487.14 174.60 L487.20 174.65 L488.06 175.56 L488.21 175.72 L488.98 176.53 L489.23 176.79 L489.90 177.49 L490.24 177.85 L490.83 178.46 L491.26 178.90 L491.76 179.42 L492.27 179.96 L492.69 180.39 L493.29 181.01 L493.62 181.35 L494.31 182.05 L494.56 182.32 L495.32 183.09 L495.50 183.28 L496.34 184.13 L496.45 184.25 L497.35 185.16 L497.40 185.21 L498.35 186.18 L498.37 186.19 L499.31 187.14 L499.38 187.22 L500.27 188.11 L500.40 188.24 L501.23 189.07 L501.41 189.26 L502.19 190.04 L502.43 190.27 L503.16 191.00 L503.45 191.28 L504.14 191.97 L504.46 192.28 L505.12 192.93 L505.48 193.29 L506.10 193.89 L506.49 194.28 L507.08 194.86 L507.51 195.28 L508.07 195.82 L508.52 196.27 L509.06 196.79 L509.54 197.25 L510.06 197.75 L510.55 198.23 L511.06 198.72 L511.57 199.21 L512.06 199.68 L512.59 200.18 L513.07 200.65 L513.60 201.15 L514.09 201.61 L514.62 202.12 L515.10 202.58 L515.63 203.08 L516.12 203.54 L516.65 204.04 L517.15 204.51 L517.66 204.99 L518.18 205.47 L518.68 205.94 L519.21 206.44 L519.69 206.89 L520.25 207.40 L520.71 207.83 L521.29 208.37 L521.73 208.77 L522.33 209.33 L522.74 209.71 L523.38 210.30 L523.76 210.64 L524.44 211.26 L524.77 211.57 L525.49 212.23 L525.79 212.49 L526.56 213.19 L526.80 213.42 L527.62 214.16 L527.82 214.33 L528.69 215.12 L528.83 215.25 L529.77 216.09 L529.85 216.16 L530.85 217.05 L530.87 217.07 L531.88 217.97 L531.93 218.02 L532.90 218.87 L533.02 218.98 L533.91 219.77 L534.11 219.95 L534.93 220.67 L535.21 220.91 L535.94 221.56 L536.31 221.88 L536.96 222.45 L537.41 222.84 L537.97 223.33 L538.52 223.81 L538.99 224.21 L539.63 224.77 L540.01 225.09 L540.75 225.74 L541.02 225.97 L541.87 226.70 L542.04 226.84 L542.99 227.67 L543.05 227.71 L544.07 228.58 L544.12 228.63 L545.08 229.45 L545.26 229.60 L546.10 230.31 L546.39 230.56 L547.11 231.17 L547.53 231.53 L548.13 232.03 L548.68 232.49 L549.14 232.88 L549.83 233.46 L550.16 233.73 L550.98 234.42 L551.18 234.58 L552.14 235.38 L552.19 235.43 L553.21 236.28 L553.30 236.35 L554.22 237.12 L554.46 237.31 L555.24 237.96 L555.63 238.28 L556.25 238.80 L556.80 239.24 L557.27 239.63 L557.97 240.21 L558.28 240.47 L559.15 241.17 L559.30 241.30 L560.32 242.13 L560.33 242.14 L561.33 242.96 L561.51 243.10 L562.35 243.79 L562.69 244.07 L563.36 244.61 L563.88 245.03 L564.38 245.43 L565.07 246.00 L565.39 246.26 L566.27 246.96 L566.41 247.08 L567.42 247.90 L567.47 247.93 L568.44 248.71 L568.66 248.89 L569.46 249.53 L569.86 249.86 L570.47 250.35 L571.07 250.82 L571.49 251.16 L572.27 251.79 L572.50 251.97 L573.48 252.75 L573.52 252.79 L574.53 253.60 L574.69 253.72 L575.55 254.41 L575.89 254.68 L576.56 255.22 L577.10 255.65 L577.58 256.03 L578.31 256.61 L578.60 256.84 L579.53 257.58 L579.61 257.65 L580.63 258.45 L580.74 258.54 L581.64 259.26 L581.95 259.51 L582.66 260.07 L583.16 260.47 L583.67 260.88 L584.37 261.44 L584.69 261.69 L585.58 262.40 L585.70 262.50 L586.72 263.31 L586.79 263.37 L587.74 264.12 L588.00 264.33 L588.75 264.93 L589.20 265.30 L589.77 265.75 L590.41 266.26 L590.78 266.56 L591.61 267.23 L591.80 267.38 L592.81 268.19 L592.81 268.20 L593.83 269.02 L594.00 269.16 L594.84 269.84 L595.20 270.12 L595.86 270.66 L596.38 271.09 L596.88 271.49 L597.57 272.05 L597.89 272.32 L598.74 273.02 L598.91 273.15 L599.92 273.98 L599.92 273.99 L600.94 274.83 L601.08 274.95 L601.95 275.67 L602.24 275.91 L602.97 276.52 L603.39 276.87 L603.98 277.37 L604.54 277.84 L605.00 278.23 L605.67 278.80 L606.02 279.10 L606.80 279.77 L607.03 279.97 L607.92 280.73 L608.05 280.85 L609.03 281.70 L609.06 281.73 L610.08 282.63 L610.12 282.66 L611.09 283.53 L611.20 283.63 L612.11 284.44 L612.27 284.59 L613.12 285.37 L613.33 285.56 L614.14 286.31 L614.37 286.52 L615.16 287.26 L615.40 287.49 L616.17 288.22 L616.41 288.45 L617.19 289.21 L617.40 289.42 L618.20 290.21 L618.38 290.38 L619.22 291.23 L619.33 291.35 L620.23 292.28 L620.27 292.31 L621.18 293.28 L621.25 293.35 L622.07 294.24 L622.26 294.46 L622.94 295.21 L623.28 295.60 L623.78 296.17 L624.30 296.78 L624.59 297.14 L625.31 298.01 L625.38 298.10 L626.14 299.07 L626.33 299.31 L626.87 300.03 L627.34 300.67 L627.57 301.00 L628.24 301.96 L628.36 302.13 L628.88 302.93 L629.37 303.72 L629.48 303.89 L630.04 304.86 L630.39 305.48 L630.57 305.82 L631.06 306.79 L631.40 307.52 L631.51 307.75 L631.92 308.72 L632.29 309.68 L632.42 310.04 L632.62 310.65 L632.91 311.61 L633.15 312.58 L633.35 313.54 L633.44 314.00 L633.51 314.51 L633.62 315.47 L633.69 316.44 L633.71 317.40" stroke="#ffa500"/>
</g>
<rect x="392.75" y="28.90" width="303.65" height="288.50" fill="none" stroke="#000" stroke-width="1.40"/>
<path d="M423.12 317.40v-6.00 M423.12 28.90v6.00 M453.48 317.40v-12.80 M453.48 28.90v12.80 M483.85 317.40v-6.00 M483.85 28.90v6.00 M514.21 317.40v-12.80 M514.21 28.90v12.80 M544.58 317.40v-6.00 M544.58 28.90v6.00 M574.94 317.40v-12.80 M574.94 28.90v12.80 M605.30 317.40v-6.00 M605.30 28.90v6.00 M635.67 317.40v-12.80 M635.67 28.90v12.80 M666.03 317.40v-6.00 M666.03 28.90v6.00 M392.75 57.75h6.00 M696.40 57.75h-6.00 M392.75 86.60h12.80 M696.40 86.60h-12.80 M392.75 115.45h6.00 M696.40 115.45h-6.00 M392.75 144.30h12.80 M696.40 144.30h-12.80 M392.75 173.15h6.00 M696.40 173.15h-6.00 M392.75 202.00h12.80 M696.40 202.00h-12.80 M392.75 230.85h6.00 M696.40 230.85h-6.00 M392.75 259.70h12.80 M696.40 259.70h-12.80 M392.75 288.55h6.00 M696.40 288.55h-6.00 " stroke="#000" stroke-width="1.15" fill="none"/>
<rect x="578.40" y="28.90" width="118.00" height="117.70" fill="#fff" stroke="#000" stroke-width="1.40"/>
<path d="M586 43.10H611.8" stroke="#ff0000" stroke-width="2.15"/>
<text x="624.8" y="50.20" font-size="23">x=0</text>
<path d="M586 65.60H611.8" stroke="#ff0000" stroke-width="2.15" stroke-dasharray="10 5.3"/>
<text x="624.8" y="72.70" font-size="23">x=0.08</text>
<path d="M586 88.00H611.8" stroke="#000000" stroke-width="2.15"/>
<text x="624.8" y="95.10" font-size="23">x=0.16</text>
<path d="M586 110.40H611.8" stroke="#ffa500" stroke-width="2.15" stroke-dasharray="10 5.3"/>
<text x="624.8" y="117.50" font-size="23">x=0.24</text>
<path d="M586 132.60H611.8" stroke="#ffa500" stroke-width="2.15"/>
<text x="624.8" y="139.70" font-size="23">x=0.32</text>
<text x="52.30" y="36.20" font-size="21.8" text-anchor="end">0.4</text>
<text x="52.30" y="108.32" font-size="21.8" text-anchor="end">0.2</text>
<text x="52.30" y="180.45" font-size="21.8" text-anchor="end">0</text>
<text x="52.30" y="252.57" font-size="21.8" text-anchor="end">-0.2</text>
<text x="52.30" y="324.70" font-size="21.8" text-anchor="end">-0.4</text>
<text x="58.70" y="338.90" font-size="21.8" text-anchor="middle">0</text>
<text x="210.70" y="338.90" font-size="21.8" text-anchor="middle">0.05</text>
<text x="362.70" y="338.90" font-size="21.8" text-anchor="middle">0.1</text>
<text x="210.20" y="363.90" font-size="26.4" text-anchor="middle">hole doping x</text>
<text x="97.80" y="64.90" font-size="26" text-anchor="start">(a)</text>
<text x="168.50" y="64.90" font-size="26.2" text-anchor="start">t’= 0.5 t</text>
<text x="86.50" y="283.20" font-size="26.4" text-anchor="start">AFM</text>
<text x="171.60" y="296.70" font-size="26" text-anchor="start">t’=-0.5 t</text>
<text x="518.00" y="64.50" font-size="26.4" text-anchor="start">(b)</text>
<text x="404.80" y="301.60" font-size="26.4" text-anchor="start">(0,0)</text>
<text x="383.20" y="21.30" font-size="26.4" text-anchor="start">(0,</text>
<g transform="translate(413.00,20.50)" fill="none" stroke="#000" stroke-linecap="round"><path d="M0.3,-9.5C1.0,-11.2 2.0,-11.7 3.6,-11.7L13.6,-11.7" stroke-width="2.2"/><path d="M5.5,-11.2C5.3,-7.3 4.7,-3.8 2.8,-1.0" stroke-width="1.75"/><circle cx="2.5" cy="-1.0" r="1.6" fill="#000" stroke="none"/><path d="M10.1,-11.2C9.8,-8.3 9.3,-4.3 9.7,-2.3C10.2,0.0 12.6,0.2 13.8,-2.6" stroke-width="1.85"/></g>
<text x="428.50" y="21.30" font-size="26.4" text-anchor="start">)</text>
<text x="650.40" y="21.30" font-size="26.4" text-anchor="start">(</text>
<g transform="translate(660.20,20.50)" fill="none" stroke="#000" stroke-linecap="round"><path d="M0.3,-9.5C1.0,-11.2 2.0,-11.7 3.6,-11.7L13.6,-11.7" stroke-width="2.2"/><path d="M5.5,-11.2C5.3,-7.3 4.7,-3.8 2.8,-1.0" stroke-width="1.75"/><circle cx="2.5" cy="-1.0" r="1.6" fill="#000" stroke="none"/><path d="M10.1,-11.2C9.8,-8.3 9.3,-4.3 9.7,-2.3C10.2,0.0 12.6,0.2 13.8,-2.6" stroke-width="1.85"/></g>
<text x="674.20" y="21.30" font-size="26.4" text-anchor="start">,</text>
<g transform="translate(681.80,20.50)" fill="none" stroke="#000" stroke-linecap="round"><path d="M0.3,-9.5C1.0,-11.2 2.0,-11.7 3.6,-11.7L13.6,-11.7" stroke-width="2.2"/><path d="M5.5,-11.2C5.3,-7.3 4.7,-3.8 2.8,-1.0" stroke-width="1.75"/><circle cx="2.5" cy="-1.0" r="1.6" fill="#000" stroke="none"/><path d="M10.1,-11.2C9.8,-8.3 9.3,-4.3 9.7,-2.3C10.2,0.0 12.6,0.2 13.8,-2.6" stroke-width="1.85"/></g>
<text x="696.50" y="21.30" font-size="26.4" text-anchor="start">)</text>
<g transform="translate(25.9,193.8) rotate(-90)" font-size="29">
<text transform="translate(0.2,0) scale(1.06,1)">t</text>
<text x="10.6" y="-1.0" font-size="31">’</text>
<text transform="translate(20.6,0.3) scale(1.35,1)" font-size="28">/</text>
<text transform="translate(35.3,0) scale(1.06,1)">t</text>
<path d="M-1.6,-22.0 c1.2,-1.6 2.6,-2.3 4.0,-1.5 c1.2,0.7 2.0,1.6 3.2,1.4 c1.2,-0.2 2.0,-1.0 2.8,-2.2 M34.2,-22.0 c1.2,-1.6 2.6,-2.3 4.0,-1.5 c1.2,0.7 2.0,1.6 3.2,1.4 c1.2,-0.2 2.0,-1.0 2.8,-2.2" fill="none" stroke="#000" stroke-width="1.5" stroke-linecap="round"/>
</g>
</svg>
</body></html>
